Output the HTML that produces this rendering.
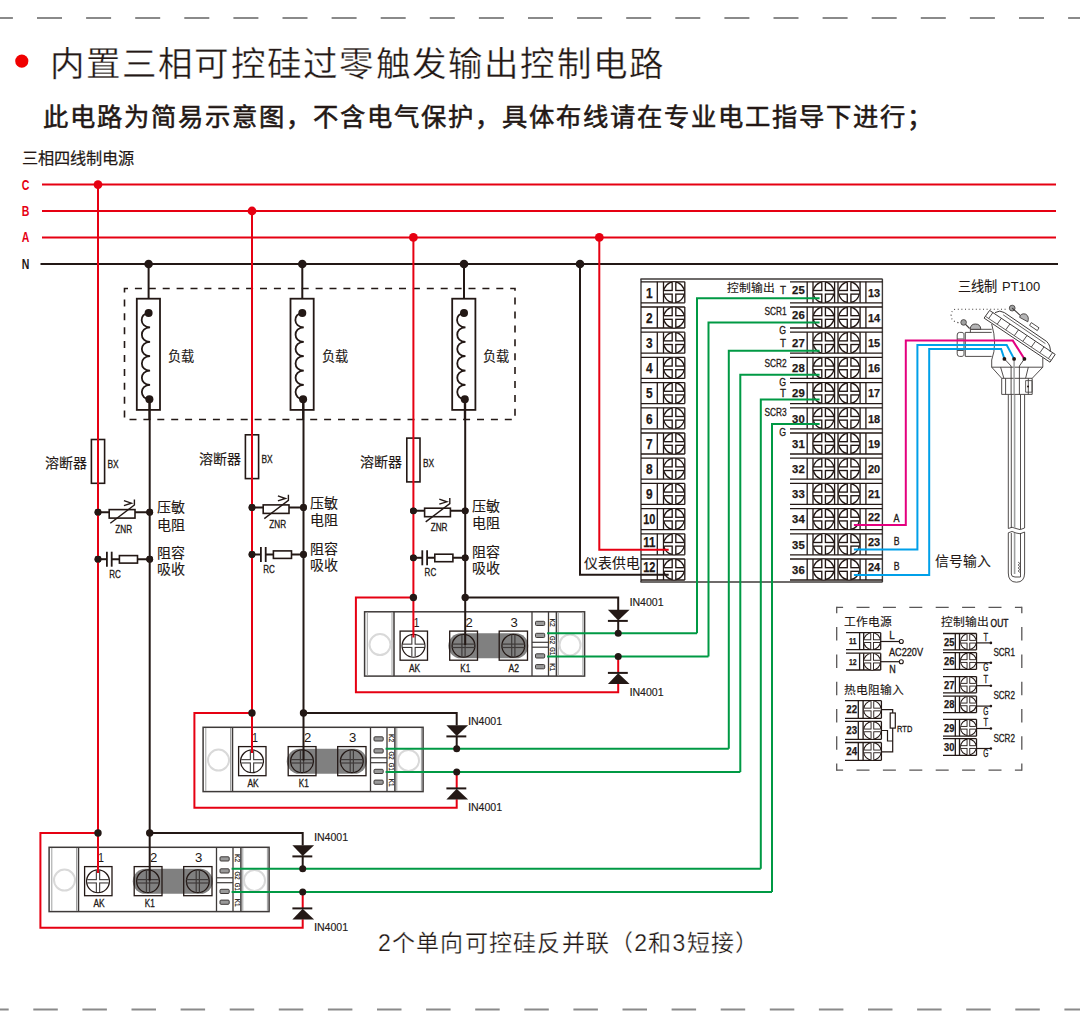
<!DOCTYPE html>
<html lang="zh-CN"><head><meta charset="utf-8"><style>
html,body{margin:0;padding:0;background:#fff;}
svg{display:block;font-family:"Liberation Sans",sans-serif;}
</style></head><body>
<svg width="1080" height="1033" viewBox="0 0 1080 1033">
<rect width="1080" height="1033" fill="#fff"/>
<line x1="0" y1="18" x2="1080" y2="18" stroke="#8a8a8a" stroke-width="2" stroke-dasharray="25 24.1" stroke-dashoffset="12.1"/>
<line x1="0" y1="1009.5" x2="1080" y2="1009.5" stroke="#8a8a8a" stroke-width="2" stroke-dasharray="24.5 24.6" stroke-dashoffset="15.8"/>
<circle cx="21.8" cy="61.1" r="6.6" fill="#f00000"/>
<text x="49.6" y="76.2" font-size="34.5" fill="#231815" stroke="#fff" stroke-width="0.3" textLength="613.5" lengthAdjust="spacing">内置三相可控硅过零触发输出控制电路</text>
<text x="43.2" y="125.5" font-size="25.3" fill="#231815" stroke="#231815" stroke-width="0.55" font-weight="normal" textLength="889" lengthAdjust="spacing">此电路为简易示意图，不含电气保护，具体布线请在专业电工指导下进行；</text>
<text x="22.3" y="163.5" font-size="16.2" fill="#231815" font-weight="normal" text-anchor="start" stroke="#231815" stroke-width="0.2">三相四线制电源</text>
<text x="21.8" y="189.6" font-size="13.8" fill="#e60012" font-weight="bold" text-anchor="start" textLength="7.6" lengthAdjust="spacingAndGlyphs" >C</text>
<text x="21.8" y="216" font-size="13.8" fill="#e60012" font-weight="bold" text-anchor="start" textLength="7.6" lengthAdjust="spacingAndGlyphs" >B</text>
<text x="21.8" y="242.4" font-size="13.8" fill="#e60012" font-weight="bold" text-anchor="start" textLength="7.6" lengthAdjust="spacingAndGlyphs" >A</text>
<text x="21.8" y="269" font-size="13.8" fill="#231815" font-weight="bold" text-anchor="start" textLength="7.6" lengthAdjust="spacingAndGlyphs" >N</text>
<line x1="42" y1="184.6" x2="1056" y2="184.6" stroke="#e60012" stroke-width="2" />
<line x1="42" y1="211" x2="1056" y2="211" stroke="#e60012" stroke-width="2" />
<line x1="42" y1="237.4" x2="1056" y2="237.4" stroke="#e60012" stroke-width="2" />
<line x1="40.5" y1="264" x2="1058" y2="264" stroke="#231815" stroke-width="2" />
<rect x="124.5" y="288.5" width="390.5" height="131" fill="none" stroke="#231815" stroke-width="1.6" stroke-dasharray="7 6.9" stroke-dashoffset="3.5"/>
<line x1="148.6" y1="264" x2="148.6" y2="313" stroke="#231815" stroke-width="2" />
<rect x="136.8" y="298.7" width="23.2" height="111.2" fill="white" stroke="#231815" stroke-width="1.8" />
<path d="M148.6,313.1 C139.1,313.1 139.1,327.47 150.1,327.47 C139.1,327.47 139.1,341.83 150.1,341.83 C139.1,341.83 139.1,356.2 150.1,356.2 C139.1,356.2 139.1,370.57 150.1,370.57 C139.1,370.57 139.1,384.93 150.1,384.93 C139.1,384.93 139.1,399.3 150.1,399.3" fill="none" stroke="#231815" stroke-width="1.8"/>
<circle cx="148.6" cy="313.1" r="4" fill="#231815"/>
<circle cx="149.4" cy="399.3" r="4" fill="#231815"/>
<line x1="149.4" y1="399.3" x2="149.4" y2="420" stroke="#231815" stroke-width="2" />
<text x="167.9" y="360.5" font-size="13.2" fill="#231815" font-weight="normal" text-anchor="start" stroke="#231815" stroke-width="0.12">负载</text>
<circle cx="148.6" cy="264" r="4.3" fill="#231815"/>
<line x1="302.3" y1="264" x2="302.3" y2="313" stroke="#231815" stroke-width="2" />
<rect x="290.5" y="298.7" width="23.2" height="111.2" fill="white" stroke="#231815" stroke-width="1.8" />
<path d="M302.3,313.1 C292.8,313.1 292.8,327.47 303.8,327.47 C292.8,327.47 292.8,341.83 303.8,341.83 C292.8,341.83 292.8,356.2 303.8,356.2 C292.8,356.2 292.8,370.57 303.8,370.57 C292.8,370.57 292.8,384.93 303.8,384.93 C292.8,384.93 292.8,399.3 303.8,399.3" fill="none" stroke="#231815" stroke-width="1.8"/>
<circle cx="302.3" cy="313.1" r="4" fill="#231815"/>
<circle cx="303.1" cy="399.3" r="4" fill="#231815"/>
<line x1="303.1" y1="399.3" x2="303.1" y2="420" stroke="#231815" stroke-width="2" />
<text x="321.6" y="360.5" font-size="13.2" fill="#231815" font-weight="normal" text-anchor="start" stroke="#231815" stroke-width="0.12">负载</text>
<circle cx="302.3" cy="264" r="4.3" fill="#231815"/>
<line x1="464" y1="264" x2="464" y2="313" stroke="#231815" stroke-width="2" />
<rect x="452.2" y="298.7" width="23.2" height="111.2" fill="white" stroke="#231815" stroke-width="1.8" />
<path d="M464,313.1 C454.5,313.1 454.5,327.47 465.5,327.47 C454.5,327.47 454.5,341.83 465.5,341.83 C454.5,341.83 454.5,356.2 465.5,356.2 C454.5,356.2 454.5,370.57 465.5,370.57 C454.5,370.57 454.5,384.93 465.5,384.93 C454.5,384.93 454.5,399.3 465.5,399.3" fill="none" stroke="#231815" stroke-width="1.8"/>
<circle cx="464" cy="313.1" r="4" fill="#231815"/>
<circle cx="464.8" cy="399.3" r="4" fill="#231815"/>
<line x1="464.8" y1="399.3" x2="464.8" y2="420" stroke="#231815" stroke-width="2" />
<text x="483.3" y="360.5" font-size="13.2" fill="#231815" font-weight="normal" text-anchor="start" stroke="#231815" stroke-width="0.12">负载</text>
<circle cx="464" cy="264" r="4.3" fill="#231815"/>
<line x1="640.4" y1="279" x2="882.6" y2="279" stroke="#3e3a39" stroke-width="1.4" />
<line x1="640.4" y1="582" x2="882.6" y2="582" stroke="#3e3a39" stroke-width="1.4" />
<line x1="641" y1="279" x2="641" y2="582" stroke="#3e3a39" stroke-width="1.4" />
<line x1="882.4" y1="279" x2="882.4" y2="582" stroke="#3e3a39" stroke-width="1.4" />
<line x1="641" y1="281.8" x2="684.8" y2="281.8" stroke="#231815" stroke-width="1.3" />
<line x1="641" y1="302.8" x2="684.8" y2="302.8" stroke="#231815" stroke-width="1.3" />
<line x1="657.3" y1="281.8" x2="657.3" y2="302.8" stroke="#231815" stroke-width="1.3" />
<line x1="663.5" y1="281.8" x2="663.5" y2="302.8" stroke="#231815" stroke-width="1.3" />
<line x1="684.8" y1="281.8" x2="684.8" y2="302.8" stroke="#231815" stroke-width="1.3" />
<circle cx="674" cy="292.3" r="10.35" fill="white" stroke="#231815" stroke-width="1.3" />
<g stroke="#231815" stroke-width="5.0"><line x1="674" y1="282.45" x2="674" y2="302.15"/><line x1="664.15" y1="292.3" x2="683.85" y2="292.3"/></g>
<g stroke="#fff" stroke-width="2.3"><line x1="674" y1="282.25" x2="674" y2="302.35"/><line x1="663.95" y1="292.3" x2="684.05" y2="292.3"/></g>
<text x="649.3" y="297.5" font-size="14.2" fill="#231815" font-weight="bold" text-anchor="middle" textLength="6.6" lengthAdjust="spacingAndGlyphs" stroke="#231815" stroke-width="0.25">1</text>
<line x1="790" y1="281.8" x2="882.4" y2="281.8" stroke="#231815" stroke-width="1.3" />
<line x1="790" y1="302.8" x2="882.4" y2="302.8" stroke="#231815" stroke-width="1.3" />
<line x1="807.2" y1="281.8" x2="807.2" y2="302.8" stroke="#231815" stroke-width="1.3" />
<line x1="813" y1="281.8" x2="813" y2="302.8" stroke="#231815" stroke-width="1.3" />
<line x1="834.6" y1="281.8" x2="834.6" y2="302.8" stroke="#231815" stroke-width="1.3" />
<line x1="838" y1="281.8" x2="838" y2="302.8" stroke="#231815" stroke-width="1.3" />
<line x1="860.1" y1="281.8" x2="860.1" y2="302.8" stroke="#231815" stroke-width="1.3" />
<line x1="865.9" y1="281.8" x2="865.9" y2="302.8" stroke="#231815" stroke-width="1.3" />
<circle cx="823.6" cy="292.3" r="10.35" fill="white" stroke="#231815" stroke-width="1.3" />
<g stroke="#231815" stroke-width="5.0"><line x1="823.6" y1="282.45" x2="823.6" y2="302.15"/><line x1="813.75" y1="292.3" x2="833.45" y2="292.3"/></g>
<g stroke="#fff" stroke-width="2.3"><line x1="823.6" y1="282.25" x2="823.6" y2="302.35"/><line x1="813.55" y1="292.3" x2="833.65" y2="292.3"/></g>
<circle cx="849.1" cy="292.3" r="10.35" fill="white" stroke="#231815" stroke-width="1.3" />
<g stroke="#231815" stroke-width="5.0"><line x1="849.1" y1="282.45" x2="849.1" y2="302.15"/><line x1="839.25" y1="292.3" x2="858.95" y2="292.3"/></g>
<g stroke="#fff" stroke-width="2.3"><line x1="849.1" y1="282.25" x2="849.1" y2="302.35"/><line x1="839.05" y1="292.3" x2="859.15" y2="292.3"/></g>
<text x="798.4" y="293.8" font-size="11.8" fill="#231815" font-weight="bold" text-anchor="middle" textLength="12.6" lengthAdjust="spacingAndGlyphs" stroke="#231815" stroke-width="0.25">25</text>
<text x="874" y="296.5" font-size="11.8" fill="#231815" font-weight="bold" text-anchor="middle" textLength="12.2" lengthAdjust="spacingAndGlyphs" stroke="#231815" stroke-width="0.25">13</text>
<line x1="641" y1="307" x2="684.8" y2="307" stroke="#231815" stroke-width="1.3" />
<line x1="641" y1="328" x2="684.8" y2="328" stroke="#231815" stroke-width="1.3" />
<line x1="657.3" y1="307" x2="657.3" y2="328" stroke="#231815" stroke-width="1.3" />
<line x1="663.5" y1="307" x2="663.5" y2="328" stroke="#231815" stroke-width="1.3" />
<line x1="684.8" y1="307" x2="684.8" y2="328" stroke="#231815" stroke-width="1.3" />
<circle cx="674" cy="317.5" r="10.35" fill="white" stroke="#231815" stroke-width="1.3" />
<g stroke="#231815" stroke-width="5.0"><line x1="674" y1="307.65" x2="674" y2="327.35"/><line x1="664.15" y1="317.5" x2="683.85" y2="317.5"/></g>
<g stroke="#fff" stroke-width="2.3"><line x1="674" y1="307.45" x2="674" y2="327.55"/><line x1="663.95" y1="317.5" x2="684.05" y2="317.5"/></g>
<text x="649.3" y="322.7" font-size="14.2" fill="#231815" font-weight="bold" text-anchor="middle" textLength="6.6" lengthAdjust="spacingAndGlyphs" stroke="#231815" stroke-width="0.25">2</text>
<line x1="790" y1="307" x2="882.4" y2="307" stroke="#231815" stroke-width="1.3" />
<line x1="790" y1="328" x2="882.4" y2="328" stroke="#231815" stroke-width="1.3" />
<line x1="807.2" y1="307" x2="807.2" y2="328" stroke="#231815" stroke-width="1.3" />
<line x1="813" y1="307" x2="813" y2="328" stroke="#231815" stroke-width="1.3" />
<line x1="834.6" y1="307" x2="834.6" y2="328" stroke="#231815" stroke-width="1.3" />
<line x1="838" y1="307" x2="838" y2="328" stroke="#231815" stroke-width="1.3" />
<line x1="860.1" y1="307" x2="860.1" y2="328" stroke="#231815" stroke-width="1.3" />
<line x1="865.9" y1="307" x2="865.9" y2="328" stroke="#231815" stroke-width="1.3" />
<circle cx="823.6" cy="317.5" r="10.35" fill="white" stroke="#231815" stroke-width="1.3" />
<g stroke="#231815" stroke-width="5.0"><line x1="823.6" y1="307.65" x2="823.6" y2="327.35"/><line x1="813.75" y1="317.5" x2="833.45" y2="317.5"/></g>
<g stroke="#fff" stroke-width="2.3"><line x1="823.6" y1="307.45" x2="823.6" y2="327.55"/><line x1="813.55" y1="317.5" x2="833.65" y2="317.5"/></g>
<circle cx="849.1" cy="317.5" r="10.35" fill="white" stroke="#231815" stroke-width="1.3" />
<g stroke="#231815" stroke-width="5.0"><line x1="849.1" y1="307.65" x2="849.1" y2="327.35"/><line x1="839.25" y1="317.5" x2="858.95" y2="317.5"/></g>
<g stroke="#fff" stroke-width="2.3"><line x1="849.1" y1="307.45" x2="849.1" y2="327.55"/><line x1="839.05" y1="317.5" x2="859.15" y2="317.5"/></g>
<text x="798.4" y="319" font-size="11.8" fill="#231815" font-weight="bold" text-anchor="middle" textLength="12.6" lengthAdjust="spacingAndGlyphs" stroke="#231815" stroke-width="0.25">26</text>
<text x="874" y="321.7" font-size="11.8" fill="#231815" font-weight="bold" text-anchor="middle" textLength="12.2" lengthAdjust="spacingAndGlyphs" stroke="#231815" stroke-width="0.25">14</text>
<line x1="641" y1="332.2" x2="684.8" y2="332.2" stroke="#231815" stroke-width="1.3" />
<line x1="641" y1="353.2" x2="684.8" y2="353.2" stroke="#231815" stroke-width="1.3" />
<line x1="657.3" y1="332.2" x2="657.3" y2="353.2" stroke="#231815" stroke-width="1.3" />
<line x1="663.5" y1="332.2" x2="663.5" y2="353.2" stroke="#231815" stroke-width="1.3" />
<line x1="684.8" y1="332.2" x2="684.8" y2="353.2" stroke="#231815" stroke-width="1.3" />
<circle cx="674" cy="342.7" r="10.35" fill="white" stroke="#231815" stroke-width="1.3" />
<g stroke="#231815" stroke-width="5.0"><line x1="674" y1="332.85" x2="674" y2="352.55"/><line x1="664.15" y1="342.7" x2="683.85" y2="342.7"/></g>
<g stroke="#fff" stroke-width="2.3"><line x1="674" y1="332.65" x2="674" y2="352.75"/><line x1="663.95" y1="342.7" x2="684.05" y2="342.7"/></g>
<text x="649.3" y="347.9" font-size="14.2" fill="#231815" font-weight="bold" text-anchor="middle" textLength="6.6" lengthAdjust="spacingAndGlyphs" stroke="#231815" stroke-width="0.25">3</text>
<line x1="790" y1="332.2" x2="882.4" y2="332.2" stroke="#231815" stroke-width="1.3" />
<line x1="790" y1="353.2" x2="882.4" y2="353.2" stroke="#231815" stroke-width="1.3" />
<line x1="807.2" y1="332.2" x2="807.2" y2="353.2" stroke="#231815" stroke-width="1.3" />
<line x1="813" y1="332.2" x2="813" y2="353.2" stroke="#231815" stroke-width="1.3" />
<line x1="834.6" y1="332.2" x2="834.6" y2="353.2" stroke="#231815" stroke-width="1.3" />
<line x1="838" y1="332.2" x2="838" y2="353.2" stroke="#231815" stroke-width="1.3" />
<line x1="860.1" y1="332.2" x2="860.1" y2="353.2" stroke="#231815" stroke-width="1.3" />
<line x1="865.9" y1="332.2" x2="865.9" y2="353.2" stroke="#231815" stroke-width="1.3" />
<circle cx="823.6" cy="342.7" r="10.35" fill="white" stroke="#231815" stroke-width="1.3" />
<g stroke="#231815" stroke-width="5.0"><line x1="823.6" y1="332.85" x2="823.6" y2="352.55"/><line x1="813.75" y1="342.7" x2="833.45" y2="342.7"/></g>
<g stroke="#fff" stroke-width="2.3"><line x1="823.6" y1="332.65" x2="823.6" y2="352.75"/><line x1="813.55" y1="342.7" x2="833.65" y2="342.7"/></g>
<circle cx="849.1" cy="342.7" r="10.35" fill="white" stroke="#231815" stroke-width="1.3" />
<g stroke="#231815" stroke-width="5.0"><line x1="849.1" y1="332.85" x2="849.1" y2="352.55"/><line x1="839.25" y1="342.7" x2="858.95" y2="342.7"/></g>
<g stroke="#fff" stroke-width="2.3"><line x1="849.1" y1="332.65" x2="849.1" y2="352.75"/><line x1="839.05" y1="342.7" x2="859.15" y2="342.7"/></g>
<text x="798.4" y="346.9" font-size="11.8" fill="#231815" font-weight="bold" text-anchor="middle" textLength="12.6" lengthAdjust="spacingAndGlyphs" stroke="#231815" stroke-width="0.25">27</text>
<text x="874" y="346.9" font-size="11.8" fill="#231815" font-weight="bold" text-anchor="middle" textLength="12.2" lengthAdjust="spacingAndGlyphs" stroke="#231815" stroke-width="0.25">15</text>
<line x1="641" y1="357.4" x2="684.8" y2="357.4" stroke="#231815" stroke-width="1.3" />
<line x1="641" y1="378.4" x2="684.8" y2="378.4" stroke="#231815" stroke-width="1.3" />
<line x1="657.3" y1="357.4" x2="657.3" y2="378.4" stroke="#231815" stroke-width="1.3" />
<line x1="663.5" y1="357.4" x2="663.5" y2="378.4" stroke="#231815" stroke-width="1.3" />
<line x1="684.8" y1="357.4" x2="684.8" y2="378.4" stroke="#231815" stroke-width="1.3" />
<circle cx="674" cy="367.9" r="10.35" fill="white" stroke="#231815" stroke-width="1.3" />
<g stroke="#231815" stroke-width="5.0"><line x1="674" y1="358.05" x2="674" y2="377.75"/><line x1="664.15" y1="367.9" x2="683.85" y2="367.9"/></g>
<g stroke="#fff" stroke-width="2.3"><line x1="674" y1="357.85" x2="674" y2="377.95"/><line x1="663.95" y1="367.9" x2="684.05" y2="367.9"/></g>
<text x="649.3" y="373.1" font-size="14.2" fill="#231815" font-weight="bold" text-anchor="middle" textLength="6.6" lengthAdjust="spacingAndGlyphs" stroke="#231815" stroke-width="0.25">4</text>
<line x1="790" y1="357.4" x2="882.4" y2="357.4" stroke="#231815" stroke-width="1.3" />
<line x1="790" y1="378.4" x2="882.4" y2="378.4" stroke="#231815" stroke-width="1.3" />
<line x1="807.2" y1="357.4" x2="807.2" y2="378.4" stroke="#231815" stroke-width="1.3" />
<line x1="813" y1="357.4" x2="813" y2="378.4" stroke="#231815" stroke-width="1.3" />
<line x1="834.6" y1="357.4" x2="834.6" y2="378.4" stroke="#231815" stroke-width="1.3" />
<line x1="838" y1="357.4" x2="838" y2="378.4" stroke="#231815" stroke-width="1.3" />
<line x1="860.1" y1="357.4" x2="860.1" y2="378.4" stroke="#231815" stroke-width="1.3" />
<line x1="865.9" y1="357.4" x2="865.9" y2="378.4" stroke="#231815" stroke-width="1.3" />
<circle cx="823.6" cy="367.9" r="10.35" fill="white" stroke="#231815" stroke-width="1.3" />
<g stroke="#231815" stroke-width="5.0"><line x1="823.6" y1="358.05" x2="823.6" y2="377.75"/><line x1="813.75" y1="367.9" x2="833.45" y2="367.9"/></g>
<g stroke="#fff" stroke-width="2.3"><line x1="823.6" y1="357.85" x2="823.6" y2="377.95"/><line x1="813.55" y1="367.9" x2="833.65" y2="367.9"/></g>
<circle cx="849.1" cy="367.9" r="10.35" fill="white" stroke="#231815" stroke-width="1.3" />
<g stroke="#231815" stroke-width="5.0"><line x1="849.1" y1="358.05" x2="849.1" y2="377.75"/><line x1="839.25" y1="367.9" x2="858.95" y2="367.9"/></g>
<g stroke="#fff" stroke-width="2.3"><line x1="849.1" y1="357.85" x2="849.1" y2="377.95"/><line x1="839.05" y1="367.9" x2="859.15" y2="367.9"/></g>
<text x="798.4" y="372.1" font-size="11.8" fill="#231815" font-weight="bold" text-anchor="middle" textLength="12.6" lengthAdjust="spacingAndGlyphs" stroke="#231815" stroke-width="0.25">28</text>
<text x="874" y="372.1" font-size="11.8" fill="#231815" font-weight="bold" text-anchor="middle" textLength="12.2" lengthAdjust="spacingAndGlyphs" stroke="#231815" stroke-width="0.25">16</text>
<line x1="641" y1="382.6" x2="684.8" y2="382.6" stroke="#231815" stroke-width="1.3" />
<line x1="641" y1="403.6" x2="684.8" y2="403.6" stroke="#231815" stroke-width="1.3" />
<line x1="657.3" y1="382.6" x2="657.3" y2="403.6" stroke="#231815" stroke-width="1.3" />
<line x1="663.5" y1="382.6" x2="663.5" y2="403.6" stroke="#231815" stroke-width="1.3" />
<line x1="684.8" y1="382.6" x2="684.8" y2="403.6" stroke="#231815" stroke-width="1.3" />
<circle cx="674" cy="393.1" r="10.35" fill="white" stroke="#231815" stroke-width="1.3" />
<g stroke="#231815" stroke-width="5.0"><line x1="674" y1="383.25" x2="674" y2="402.95"/><line x1="664.15" y1="393.1" x2="683.85" y2="393.1"/></g>
<g stroke="#fff" stroke-width="2.3"><line x1="674" y1="383.05" x2="674" y2="403.15"/><line x1="663.95" y1="393.1" x2="684.05" y2="393.1"/></g>
<text x="649.3" y="398.3" font-size="14.2" fill="#231815" font-weight="bold" text-anchor="middle" textLength="6.6" lengthAdjust="spacingAndGlyphs" stroke="#231815" stroke-width="0.25">5</text>
<line x1="790" y1="382.6" x2="882.4" y2="382.6" stroke="#231815" stroke-width="1.3" />
<line x1="790" y1="403.6" x2="882.4" y2="403.6" stroke="#231815" stroke-width="1.3" />
<line x1="807.2" y1="382.6" x2="807.2" y2="403.6" stroke="#231815" stroke-width="1.3" />
<line x1="813" y1="382.6" x2="813" y2="403.6" stroke="#231815" stroke-width="1.3" />
<line x1="834.6" y1="382.6" x2="834.6" y2="403.6" stroke="#231815" stroke-width="1.3" />
<line x1="838" y1="382.6" x2="838" y2="403.6" stroke="#231815" stroke-width="1.3" />
<line x1="860.1" y1="382.6" x2="860.1" y2="403.6" stroke="#231815" stroke-width="1.3" />
<line x1="865.9" y1="382.6" x2="865.9" y2="403.6" stroke="#231815" stroke-width="1.3" />
<circle cx="823.6" cy="393.1" r="10.35" fill="white" stroke="#231815" stroke-width="1.3" />
<g stroke="#231815" stroke-width="5.0"><line x1="823.6" y1="383.25" x2="823.6" y2="402.95"/><line x1="813.75" y1="393.1" x2="833.45" y2="393.1"/></g>
<g stroke="#fff" stroke-width="2.3"><line x1="823.6" y1="383.05" x2="823.6" y2="403.15"/><line x1="813.55" y1="393.1" x2="833.65" y2="393.1"/></g>
<circle cx="849.1" cy="393.1" r="10.35" fill="white" stroke="#231815" stroke-width="1.3" />
<g stroke="#231815" stroke-width="5.0"><line x1="849.1" y1="383.25" x2="849.1" y2="402.95"/><line x1="839.25" y1="393.1" x2="858.95" y2="393.1"/></g>
<g stroke="#fff" stroke-width="2.3"><line x1="849.1" y1="383.05" x2="849.1" y2="403.15"/><line x1="839.05" y1="393.1" x2="859.15" y2="393.1"/></g>
<text x="798.4" y="397.3" font-size="11.8" fill="#231815" font-weight="bold" text-anchor="middle" textLength="12.6" lengthAdjust="spacingAndGlyphs" stroke="#231815" stroke-width="0.25">29</text>
<text x="874" y="397.3" font-size="11.8" fill="#231815" font-weight="bold" text-anchor="middle" textLength="12.2" lengthAdjust="spacingAndGlyphs" stroke="#231815" stroke-width="0.25">17</text>
<line x1="641" y1="407.8" x2="684.8" y2="407.8" stroke="#231815" stroke-width="1.3" />
<line x1="641" y1="428.8" x2="684.8" y2="428.8" stroke="#231815" stroke-width="1.3" />
<line x1="657.3" y1="407.8" x2="657.3" y2="428.8" stroke="#231815" stroke-width="1.3" />
<line x1="663.5" y1="407.8" x2="663.5" y2="428.8" stroke="#231815" stroke-width="1.3" />
<line x1="684.8" y1="407.8" x2="684.8" y2="428.8" stroke="#231815" stroke-width="1.3" />
<circle cx="674" cy="418.3" r="10.35" fill="white" stroke="#231815" stroke-width="1.3" />
<g stroke="#231815" stroke-width="5.0"><line x1="674" y1="408.45" x2="674" y2="428.15"/><line x1="664.15" y1="418.3" x2="683.85" y2="418.3"/></g>
<g stroke="#fff" stroke-width="2.3"><line x1="674" y1="408.25" x2="674" y2="428.35"/><line x1="663.95" y1="418.3" x2="684.05" y2="418.3"/></g>
<text x="649.3" y="423.5" font-size="14.2" fill="#231815" font-weight="bold" text-anchor="middle" textLength="6.6" lengthAdjust="spacingAndGlyphs" stroke="#231815" stroke-width="0.25">6</text>
<line x1="790" y1="407.8" x2="882.4" y2="407.8" stroke="#231815" stroke-width="1.3" />
<line x1="790" y1="428.8" x2="882.4" y2="428.8" stroke="#231815" stroke-width="1.3" />
<line x1="807.2" y1="407.8" x2="807.2" y2="428.8" stroke="#231815" stroke-width="1.3" />
<line x1="813" y1="407.8" x2="813" y2="428.8" stroke="#231815" stroke-width="1.3" />
<line x1="834.6" y1="407.8" x2="834.6" y2="428.8" stroke="#231815" stroke-width="1.3" />
<line x1="838" y1="407.8" x2="838" y2="428.8" stroke="#231815" stroke-width="1.3" />
<line x1="860.1" y1="407.8" x2="860.1" y2="428.8" stroke="#231815" stroke-width="1.3" />
<line x1="865.9" y1="407.8" x2="865.9" y2="428.8" stroke="#231815" stroke-width="1.3" />
<circle cx="823.6" cy="418.3" r="10.35" fill="white" stroke="#231815" stroke-width="1.3" />
<g stroke="#231815" stroke-width="5.0"><line x1="823.6" y1="408.45" x2="823.6" y2="428.15"/><line x1="813.75" y1="418.3" x2="833.45" y2="418.3"/></g>
<g stroke="#fff" stroke-width="2.3"><line x1="823.6" y1="408.25" x2="823.6" y2="428.35"/><line x1="813.55" y1="418.3" x2="833.65" y2="418.3"/></g>
<circle cx="849.1" cy="418.3" r="10.35" fill="white" stroke="#231815" stroke-width="1.3" />
<g stroke="#231815" stroke-width="5.0"><line x1="849.1" y1="408.45" x2="849.1" y2="428.15"/><line x1="839.25" y1="418.3" x2="858.95" y2="418.3"/></g>
<g stroke="#fff" stroke-width="2.3"><line x1="849.1" y1="408.25" x2="849.1" y2="428.35"/><line x1="839.05" y1="418.3" x2="859.15" y2="418.3"/></g>
<text x="798.4" y="422.5" font-size="11.8" fill="#231815" font-weight="bold" text-anchor="middle" textLength="12.6" lengthAdjust="spacingAndGlyphs" stroke="#231815" stroke-width="0.25">30</text>
<text x="874" y="422.5" font-size="11.8" fill="#231815" font-weight="bold" text-anchor="middle" textLength="12.2" lengthAdjust="spacingAndGlyphs" stroke="#231815" stroke-width="0.25">18</text>
<line x1="641" y1="433" x2="684.8" y2="433" stroke="#231815" stroke-width="1.3" />
<line x1="641" y1="454" x2="684.8" y2="454" stroke="#231815" stroke-width="1.3" />
<line x1="657.3" y1="433" x2="657.3" y2="454" stroke="#231815" stroke-width="1.3" />
<line x1="663.5" y1="433" x2="663.5" y2="454" stroke="#231815" stroke-width="1.3" />
<line x1="684.8" y1="433" x2="684.8" y2="454" stroke="#231815" stroke-width="1.3" />
<circle cx="674" cy="443.5" r="10.35" fill="white" stroke="#231815" stroke-width="1.3" />
<g stroke="#231815" stroke-width="5.0"><line x1="674" y1="433.65" x2="674" y2="453.35"/><line x1="664.15" y1="443.5" x2="683.85" y2="443.5"/></g>
<g stroke="#fff" stroke-width="2.3"><line x1="674" y1="433.45" x2="674" y2="453.55"/><line x1="663.95" y1="443.5" x2="684.05" y2="443.5"/></g>
<text x="649.3" y="448.7" font-size="14.2" fill="#231815" font-weight="bold" text-anchor="middle" textLength="6.6" lengthAdjust="spacingAndGlyphs" stroke="#231815" stroke-width="0.25">7</text>
<line x1="790" y1="433" x2="882.4" y2="433" stroke="#231815" stroke-width="1.3" />
<line x1="790" y1="454" x2="882.4" y2="454" stroke="#231815" stroke-width="1.3" />
<line x1="807.2" y1="433" x2="807.2" y2="454" stroke="#231815" stroke-width="1.3" />
<line x1="813" y1="433" x2="813" y2="454" stroke="#231815" stroke-width="1.3" />
<line x1="834.6" y1="433" x2="834.6" y2="454" stroke="#231815" stroke-width="1.3" />
<line x1="838" y1="433" x2="838" y2="454" stroke="#231815" stroke-width="1.3" />
<line x1="860.1" y1="433" x2="860.1" y2="454" stroke="#231815" stroke-width="1.3" />
<line x1="865.9" y1="433" x2="865.9" y2="454" stroke="#231815" stroke-width="1.3" />
<circle cx="823.6" cy="443.5" r="10.35" fill="white" stroke="#231815" stroke-width="1.3" />
<g stroke="#231815" stroke-width="5.0"><line x1="823.6" y1="433.65" x2="823.6" y2="453.35"/><line x1="813.75" y1="443.5" x2="833.45" y2="443.5"/></g>
<g stroke="#fff" stroke-width="2.3"><line x1="823.6" y1="433.45" x2="823.6" y2="453.55"/><line x1="813.55" y1="443.5" x2="833.65" y2="443.5"/></g>
<circle cx="849.1" cy="443.5" r="10.35" fill="white" stroke="#231815" stroke-width="1.3" />
<g stroke="#231815" stroke-width="5.0"><line x1="849.1" y1="433.65" x2="849.1" y2="453.35"/><line x1="839.25" y1="443.5" x2="858.95" y2="443.5"/></g>
<g stroke="#fff" stroke-width="2.3"><line x1="849.1" y1="433.45" x2="849.1" y2="453.55"/><line x1="839.05" y1="443.5" x2="859.15" y2="443.5"/></g>
<text x="798.4" y="447.7" font-size="11.8" fill="#231815" font-weight="bold" text-anchor="middle" textLength="12.6" lengthAdjust="spacingAndGlyphs" stroke="#231815" stroke-width="0.25">31</text>
<text x="874" y="447.7" font-size="11.8" fill="#231815" font-weight="bold" text-anchor="middle" textLength="12.2" lengthAdjust="spacingAndGlyphs" stroke="#231815" stroke-width="0.25">19</text>
<line x1="641" y1="458.2" x2="684.8" y2="458.2" stroke="#231815" stroke-width="1.3" />
<line x1="641" y1="479.2" x2="684.8" y2="479.2" stroke="#231815" stroke-width="1.3" />
<line x1="657.3" y1="458.2" x2="657.3" y2="479.2" stroke="#231815" stroke-width="1.3" />
<line x1="663.5" y1="458.2" x2="663.5" y2="479.2" stroke="#231815" stroke-width="1.3" />
<line x1="684.8" y1="458.2" x2="684.8" y2="479.2" stroke="#231815" stroke-width="1.3" />
<circle cx="674" cy="468.7" r="10.35" fill="white" stroke="#231815" stroke-width="1.3" />
<g stroke="#231815" stroke-width="5.0"><line x1="674" y1="458.85" x2="674" y2="478.55"/><line x1="664.15" y1="468.7" x2="683.85" y2="468.7"/></g>
<g stroke="#fff" stroke-width="2.3"><line x1="674" y1="458.65" x2="674" y2="478.75"/><line x1="663.95" y1="468.7" x2="684.05" y2="468.7"/></g>
<text x="649.3" y="473.9" font-size="14.2" fill="#231815" font-weight="bold" text-anchor="middle" textLength="6.6" lengthAdjust="spacingAndGlyphs" stroke="#231815" stroke-width="0.25">8</text>
<line x1="790" y1="458.2" x2="882.4" y2="458.2" stroke="#231815" stroke-width="1.3" />
<line x1="790" y1="479.2" x2="882.4" y2="479.2" stroke="#231815" stroke-width="1.3" />
<line x1="807.2" y1="458.2" x2="807.2" y2="479.2" stroke="#231815" stroke-width="1.3" />
<line x1="813" y1="458.2" x2="813" y2="479.2" stroke="#231815" stroke-width="1.3" />
<line x1="834.6" y1="458.2" x2="834.6" y2="479.2" stroke="#231815" stroke-width="1.3" />
<line x1="838" y1="458.2" x2="838" y2="479.2" stroke="#231815" stroke-width="1.3" />
<line x1="860.1" y1="458.2" x2="860.1" y2="479.2" stroke="#231815" stroke-width="1.3" />
<line x1="865.9" y1="458.2" x2="865.9" y2="479.2" stroke="#231815" stroke-width="1.3" />
<circle cx="823.6" cy="468.7" r="10.35" fill="white" stroke="#231815" stroke-width="1.3" />
<g stroke="#231815" stroke-width="5.0"><line x1="823.6" y1="458.85" x2="823.6" y2="478.55"/><line x1="813.75" y1="468.7" x2="833.45" y2="468.7"/></g>
<g stroke="#fff" stroke-width="2.3"><line x1="823.6" y1="458.65" x2="823.6" y2="478.75"/><line x1="813.55" y1="468.7" x2="833.65" y2="468.7"/></g>
<circle cx="849.1" cy="468.7" r="10.35" fill="white" stroke="#231815" stroke-width="1.3" />
<g stroke="#231815" stroke-width="5.0"><line x1="849.1" y1="458.85" x2="849.1" y2="478.55"/><line x1="839.25" y1="468.7" x2="858.95" y2="468.7"/></g>
<g stroke="#fff" stroke-width="2.3"><line x1="849.1" y1="458.65" x2="849.1" y2="478.75"/><line x1="839.05" y1="468.7" x2="859.15" y2="468.7"/></g>
<text x="798.4" y="472.9" font-size="11.8" fill="#231815" font-weight="bold" text-anchor="middle" textLength="12.6" lengthAdjust="spacingAndGlyphs" stroke="#231815" stroke-width="0.25">32</text>
<text x="874" y="472.9" font-size="11.8" fill="#231815" font-weight="bold" text-anchor="middle" textLength="12.2" lengthAdjust="spacingAndGlyphs" stroke="#231815" stroke-width="0.25">20</text>
<line x1="641" y1="483.4" x2="684.8" y2="483.4" stroke="#231815" stroke-width="1.3" />
<line x1="641" y1="504.4" x2="684.8" y2="504.4" stroke="#231815" stroke-width="1.3" />
<line x1="657.3" y1="483.4" x2="657.3" y2="504.4" stroke="#231815" stroke-width="1.3" />
<line x1="663.5" y1="483.4" x2="663.5" y2="504.4" stroke="#231815" stroke-width="1.3" />
<line x1="684.8" y1="483.4" x2="684.8" y2="504.4" stroke="#231815" stroke-width="1.3" />
<circle cx="674" cy="493.9" r="10.35" fill="white" stroke="#231815" stroke-width="1.3" />
<g stroke="#231815" stroke-width="5.0"><line x1="674" y1="484.05" x2="674" y2="503.75"/><line x1="664.15" y1="493.9" x2="683.85" y2="493.9"/></g>
<g stroke="#fff" stroke-width="2.3"><line x1="674" y1="483.85" x2="674" y2="503.95"/><line x1="663.95" y1="493.9" x2="684.05" y2="493.9"/></g>
<text x="649.3" y="499.1" font-size="14.2" fill="#231815" font-weight="bold" text-anchor="middle" textLength="6.6" lengthAdjust="spacingAndGlyphs" stroke="#231815" stroke-width="0.25">9</text>
<line x1="790" y1="483.4" x2="882.4" y2="483.4" stroke="#231815" stroke-width="1.3" />
<line x1="790" y1="504.4" x2="882.4" y2="504.4" stroke="#231815" stroke-width="1.3" />
<line x1="807.2" y1="483.4" x2="807.2" y2="504.4" stroke="#231815" stroke-width="1.3" />
<line x1="813" y1="483.4" x2="813" y2="504.4" stroke="#231815" stroke-width="1.3" />
<line x1="834.6" y1="483.4" x2="834.6" y2="504.4" stroke="#231815" stroke-width="1.3" />
<line x1="838" y1="483.4" x2="838" y2="504.4" stroke="#231815" stroke-width="1.3" />
<line x1="860.1" y1="483.4" x2="860.1" y2="504.4" stroke="#231815" stroke-width="1.3" />
<line x1="865.9" y1="483.4" x2="865.9" y2="504.4" stroke="#231815" stroke-width="1.3" />
<circle cx="823.6" cy="493.9" r="10.35" fill="white" stroke="#231815" stroke-width="1.3" />
<g stroke="#231815" stroke-width="5.0"><line x1="823.6" y1="484.05" x2="823.6" y2="503.75"/><line x1="813.75" y1="493.9" x2="833.45" y2="493.9"/></g>
<g stroke="#fff" stroke-width="2.3"><line x1="823.6" y1="483.85" x2="823.6" y2="503.95"/><line x1="813.55" y1="493.9" x2="833.65" y2="493.9"/></g>
<circle cx="849.1" cy="493.9" r="10.35" fill="white" stroke="#231815" stroke-width="1.3" />
<g stroke="#231815" stroke-width="5.0"><line x1="849.1" y1="484.05" x2="849.1" y2="503.75"/><line x1="839.25" y1="493.9" x2="858.95" y2="493.9"/></g>
<g stroke="#fff" stroke-width="2.3"><line x1="849.1" y1="483.85" x2="849.1" y2="503.95"/><line x1="839.05" y1="493.9" x2="859.15" y2="493.9"/></g>
<text x="798.4" y="498.1" font-size="11.8" fill="#231815" font-weight="bold" text-anchor="middle" textLength="12.6" lengthAdjust="spacingAndGlyphs" stroke="#231815" stroke-width="0.25">33</text>
<text x="874" y="498.1" font-size="11.8" fill="#231815" font-weight="bold" text-anchor="middle" textLength="12.2" lengthAdjust="spacingAndGlyphs" stroke="#231815" stroke-width="0.25">21</text>
<line x1="641" y1="508.6" x2="684.8" y2="508.6" stroke="#231815" stroke-width="1.3" />
<line x1="641" y1="529.6" x2="684.8" y2="529.6" stroke="#231815" stroke-width="1.3" />
<line x1="657.3" y1="508.6" x2="657.3" y2="529.6" stroke="#231815" stroke-width="1.3" />
<line x1="663.5" y1="508.6" x2="663.5" y2="529.6" stroke="#231815" stroke-width="1.3" />
<line x1="684.8" y1="508.6" x2="684.8" y2="529.6" stroke="#231815" stroke-width="1.3" />
<circle cx="674" cy="519.1" r="10.35" fill="white" stroke="#231815" stroke-width="1.3" />
<g stroke="#231815" stroke-width="5.0"><line x1="674" y1="509.25" x2="674" y2="528.95"/><line x1="664.15" y1="519.1" x2="683.85" y2="519.1"/></g>
<g stroke="#fff" stroke-width="2.3"><line x1="674" y1="509.05" x2="674" y2="529.15"/><line x1="663.95" y1="519.1" x2="684.05" y2="519.1"/></g>
<text x="649.3" y="524.3" font-size="14.2" fill="#231815" font-weight="bold" text-anchor="middle" textLength="12.2" lengthAdjust="spacingAndGlyphs" stroke="#231815" stroke-width="0.25">10</text>
<line x1="790" y1="508.6" x2="882.4" y2="508.6" stroke="#231815" stroke-width="1.3" />
<line x1="790" y1="529.6" x2="882.4" y2="529.6" stroke="#231815" stroke-width="1.3" />
<line x1="807.2" y1="508.6" x2="807.2" y2="529.6" stroke="#231815" stroke-width="1.3" />
<line x1="813" y1="508.6" x2="813" y2="529.6" stroke="#231815" stroke-width="1.3" />
<line x1="834.6" y1="508.6" x2="834.6" y2="529.6" stroke="#231815" stroke-width="1.3" />
<line x1="838" y1="508.6" x2="838" y2="529.6" stroke="#231815" stroke-width="1.3" />
<line x1="860.1" y1="508.6" x2="860.1" y2="529.6" stroke="#231815" stroke-width="1.3" />
<line x1="865.9" y1="508.6" x2="865.9" y2="529.6" stroke="#231815" stroke-width="1.3" />
<circle cx="823.6" cy="519.1" r="10.35" fill="white" stroke="#231815" stroke-width="1.3" />
<g stroke="#231815" stroke-width="5.0"><line x1="823.6" y1="509.25" x2="823.6" y2="528.95"/><line x1="813.75" y1="519.1" x2="833.45" y2="519.1"/></g>
<g stroke="#fff" stroke-width="2.3"><line x1="823.6" y1="509.05" x2="823.6" y2="529.15"/><line x1="813.55" y1="519.1" x2="833.65" y2="519.1"/></g>
<circle cx="849.1" cy="519.1" r="10.35" fill="white" stroke="#231815" stroke-width="1.3" />
<g stroke="#231815" stroke-width="5.0"><line x1="849.1" y1="509.25" x2="849.1" y2="528.95"/><line x1="839.25" y1="519.1" x2="858.95" y2="519.1"/></g>
<g stroke="#fff" stroke-width="2.3"><line x1="849.1" y1="509.05" x2="849.1" y2="529.15"/><line x1="839.05" y1="519.1" x2="859.15" y2="519.1"/></g>
<text x="798.4" y="523.3" font-size="11.8" fill="#231815" font-weight="bold" text-anchor="middle" textLength="12.6" lengthAdjust="spacingAndGlyphs" stroke="#231815" stroke-width="0.25">34</text>
<text x="874" y="520.7" font-size="11.8" fill="#231815" font-weight="bold" text-anchor="middle" textLength="12.2" lengthAdjust="spacingAndGlyphs" stroke="#231815" stroke-width="0.25">22</text>
<line x1="641" y1="533.8" x2="684.8" y2="533.8" stroke="#231815" stroke-width="1.3" />
<line x1="641" y1="554.8" x2="684.8" y2="554.8" stroke="#231815" stroke-width="1.3" />
<line x1="657.3" y1="533.8" x2="657.3" y2="554.8" stroke="#231815" stroke-width="1.3" />
<line x1="663.5" y1="533.8" x2="663.5" y2="554.8" stroke="#231815" stroke-width="1.3" />
<line x1="684.8" y1="533.8" x2="684.8" y2="554.8" stroke="#231815" stroke-width="1.3" />
<circle cx="674" cy="544.3" r="10.35" fill="white" stroke="#231815" stroke-width="1.3" />
<g stroke="#231815" stroke-width="5.0"><line x1="674" y1="534.45" x2="674" y2="554.15"/><line x1="664.15" y1="544.3" x2="683.85" y2="544.3"/></g>
<g stroke="#fff" stroke-width="2.3"><line x1="674" y1="534.25" x2="674" y2="554.35"/><line x1="663.95" y1="544.3" x2="684.05" y2="544.3"/></g>
<text x="649.3" y="546.8" font-size="14.2" fill="#231815" font-weight="bold" text-anchor="middle" textLength="12.2" lengthAdjust="spacingAndGlyphs" stroke="#231815" stroke-width="0.25">11</text>
<line x1="790" y1="533.8" x2="882.4" y2="533.8" stroke="#231815" stroke-width="1.3" />
<line x1="790" y1="554.8" x2="882.4" y2="554.8" stroke="#231815" stroke-width="1.3" />
<line x1="807.2" y1="533.8" x2="807.2" y2="554.8" stroke="#231815" stroke-width="1.3" />
<line x1="813" y1="533.8" x2="813" y2="554.8" stroke="#231815" stroke-width="1.3" />
<line x1="834.6" y1="533.8" x2="834.6" y2="554.8" stroke="#231815" stroke-width="1.3" />
<line x1="838" y1="533.8" x2="838" y2="554.8" stroke="#231815" stroke-width="1.3" />
<line x1="860.1" y1="533.8" x2="860.1" y2="554.8" stroke="#231815" stroke-width="1.3" />
<line x1="865.9" y1="533.8" x2="865.9" y2="554.8" stroke="#231815" stroke-width="1.3" />
<circle cx="823.6" cy="544.3" r="10.35" fill="white" stroke="#231815" stroke-width="1.3" />
<g stroke="#231815" stroke-width="5.0"><line x1="823.6" y1="534.45" x2="823.6" y2="554.15"/><line x1="813.75" y1="544.3" x2="833.45" y2="544.3"/></g>
<g stroke="#fff" stroke-width="2.3"><line x1="823.6" y1="534.25" x2="823.6" y2="554.35"/><line x1="813.55" y1="544.3" x2="833.65" y2="544.3"/></g>
<circle cx="849.1" cy="544.3" r="10.35" fill="white" stroke="#231815" stroke-width="1.3" />
<g stroke="#231815" stroke-width="5.0"><line x1="849.1" y1="534.45" x2="849.1" y2="554.15"/><line x1="839.25" y1="544.3" x2="858.95" y2="544.3"/></g>
<g stroke="#fff" stroke-width="2.3"><line x1="849.1" y1="534.25" x2="849.1" y2="554.35"/><line x1="839.05" y1="544.3" x2="859.15" y2="544.3"/></g>
<text x="798.4" y="548.5" font-size="11.8" fill="#231815" font-weight="bold" text-anchor="middle" textLength="12.6" lengthAdjust="spacingAndGlyphs" stroke="#231815" stroke-width="0.25">35</text>
<text x="874" y="545.9" font-size="11.8" fill="#231815" font-weight="bold" text-anchor="middle" textLength="12.2" lengthAdjust="spacingAndGlyphs" stroke="#231815" stroke-width="0.25">23</text>
<line x1="641" y1="559" x2="684.8" y2="559" stroke="#231815" stroke-width="1.3" />
<line x1="641" y1="580" x2="684.8" y2="580" stroke="#231815" stroke-width="1.3" />
<line x1="657.3" y1="559" x2="657.3" y2="580" stroke="#231815" stroke-width="1.3" />
<line x1="663.5" y1="559" x2="663.5" y2="580" stroke="#231815" stroke-width="1.3" />
<line x1="684.8" y1="559" x2="684.8" y2="580" stroke="#231815" stroke-width="1.3" />
<circle cx="674" cy="569.5" r="10.35" fill="white" stroke="#231815" stroke-width="1.3" />
<g stroke="#231815" stroke-width="5.0"><line x1="674" y1="559.65" x2="674" y2="579.35"/><line x1="664.15" y1="569.5" x2="683.85" y2="569.5"/></g>
<g stroke="#fff" stroke-width="2.3"><line x1="674" y1="559.45" x2="674" y2="579.55"/><line x1="663.95" y1="569.5" x2="684.05" y2="569.5"/></g>
<text x="649.3" y="572" font-size="14.2" fill="#231815" font-weight="bold" text-anchor="middle" textLength="12.2" lengthAdjust="spacingAndGlyphs" stroke="#231815" stroke-width="0.25">12</text>
<line x1="790" y1="559" x2="882.4" y2="559" stroke="#231815" stroke-width="1.3" />
<line x1="790" y1="580" x2="882.4" y2="580" stroke="#231815" stroke-width="1.3" />
<line x1="807.2" y1="559" x2="807.2" y2="580" stroke="#231815" stroke-width="1.3" />
<line x1="813" y1="559" x2="813" y2="580" stroke="#231815" stroke-width="1.3" />
<line x1="834.6" y1="559" x2="834.6" y2="580" stroke="#231815" stroke-width="1.3" />
<line x1="838" y1="559" x2="838" y2="580" stroke="#231815" stroke-width="1.3" />
<line x1="860.1" y1="559" x2="860.1" y2="580" stroke="#231815" stroke-width="1.3" />
<line x1="865.9" y1="559" x2="865.9" y2="580" stroke="#231815" stroke-width="1.3" />
<circle cx="823.6" cy="569.5" r="10.35" fill="white" stroke="#231815" stroke-width="1.3" />
<g stroke="#231815" stroke-width="5.0"><line x1="823.6" y1="559.65" x2="823.6" y2="579.35"/><line x1="813.75" y1="569.5" x2="833.45" y2="569.5"/></g>
<g stroke="#fff" stroke-width="2.3"><line x1="823.6" y1="559.45" x2="823.6" y2="579.55"/><line x1="813.55" y1="569.5" x2="833.65" y2="569.5"/></g>
<circle cx="849.1" cy="569.5" r="10.35" fill="white" stroke="#231815" stroke-width="1.3" />
<g stroke="#231815" stroke-width="5.0"><line x1="849.1" y1="559.65" x2="849.1" y2="579.35"/><line x1="839.25" y1="569.5" x2="858.95" y2="569.5"/></g>
<g stroke="#fff" stroke-width="2.3"><line x1="849.1" y1="559.45" x2="849.1" y2="579.55"/><line x1="839.05" y1="569.5" x2="859.15" y2="569.5"/></g>
<text x="798.4" y="573.7" font-size="11.8" fill="#231815" font-weight="bold" text-anchor="middle" textLength="12.6" lengthAdjust="spacingAndGlyphs" stroke="#231815" stroke-width="0.25">36</text>
<text x="874" y="571.1" font-size="11.8" fill="#231815" font-weight="bold" text-anchor="middle" textLength="12.2" lengthAdjust="spacingAndGlyphs" stroke="#231815" stroke-width="0.25">24</text>
<text x="727.2" y="292.2" font-size="11.8" fill="#231815" font-weight="normal" text-anchor="start" stroke="#231815" stroke-width="0.12">控制输出</text>
<text x="786" y="294.3" font-size="11.5" fill="#231815" font-weight="normal" text-anchor="end" textLength="6" lengthAdjust="spacingAndGlyphs" stroke="#231815" stroke-width="0.3">T</text>
<text x="786.6" y="314.5" font-size="11.5" fill="#231815" font-weight="normal" text-anchor="end" textLength="22.2" lengthAdjust="spacingAndGlyphs" stroke="#231815" stroke-width="0.3">SCR1</text>
<text x="786" y="334.3" font-size="11.5" fill="#231815" font-weight="normal" text-anchor="end" textLength="6.8" lengthAdjust="spacingAndGlyphs" stroke="#231815" stroke-width="0.3">G</text>
<text x="786" y="347.4" font-size="11.5" fill="#231815" font-weight="normal" text-anchor="end" textLength="6" lengthAdjust="spacingAndGlyphs" stroke="#231815" stroke-width="0.3">T</text>
<text x="786.6" y="366.6" font-size="11.5" fill="#231815" font-weight="normal" text-anchor="end" textLength="22.2" lengthAdjust="spacingAndGlyphs" stroke="#231815" stroke-width="0.3">SCR2</text>
<text x="786" y="385.6" font-size="11.5" fill="#231815" font-weight="normal" text-anchor="end" textLength="6.8" lengthAdjust="spacingAndGlyphs" stroke="#231815" stroke-width="0.3">G</text>
<text x="786" y="397.4" font-size="11.5" fill="#231815" font-weight="normal" text-anchor="end" textLength="6" lengthAdjust="spacingAndGlyphs" stroke="#231815" stroke-width="0.3">T</text>
<text x="786.6" y="416" font-size="11.5" fill="#231815" font-weight="normal" text-anchor="end" textLength="22.2" lengthAdjust="spacingAndGlyphs" stroke="#231815" stroke-width="0.3">SCR3</text>
<text x="786" y="435.7" font-size="11.5" fill="#231815" font-weight="normal" text-anchor="end" textLength="6.8" lengthAdjust="spacingAndGlyphs" stroke="#231815" stroke-width="0.3">G</text>
<text x="584" y="568" font-size="13.8" fill="#231815" font-weight="normal" text-anchor="start" stroke="#231815" stroke-width="0.12">仪表供电</text>
<polyline points="697,633.2 697,298.2 819.6,298.2" fill="none" stroke="#009944" stroke-width="2" />
<polyline points="708.5,656.6 708.5,322.4 819.6,322.4" fill="none" stroke="#009944" stroke-width="2" />
<polyline points="728.8,748.7 728.8,350.8 819.6,350.8" fill="none" stroke="#009944" stroke-width="2" />
<polyline points="740.3,772.1 740.3,374.7 819.6,374.7" fill="none" stroke="#009944" stroke-width="2" />
<polyline points="760.8,868.7 760.8,399.4 819.6,399.4" fill="none" stroke="#009944" stroke-width="2" />
<polyline points="772,892.1 772,424 819.6,424" fill="none" stroke="#009944" stroke-width="2" />
<polyline points="599.3,237.4 599.3,549.8 668.7,549.8" fill="none" stroke="#e60012" stroke-width="2" />
<polyline points="580,264 580,574.7 668.7,574.7" fill="none" stroke="#231815" stroke-width="2" />
<circle cx="599.3" cy="237.4" r="4.4" fill="#e60012"/>
<circle cx="580" cy="264" r="4.3" fill="#231815"/>
<rect x="91.4" y="439.5" width="13.2" height="43.8" fill="white" stroke="#231815" stroke-width="1.6" />
<text x="86.7" y="468.4" font-size="14" fill="#231815" font-weight="normal" text-anchor="end" stroke="#231815" stroke-width="0.12">溶断器</text>
<text x="107.5" y="467.9" font-size="10.5" fill="#231815" font-weight="normal" text-anchor="start" textLength="11.2" lengthAdjust="spacingAndGlyphs" stroke="#231815" stroke-width="0.3">BX</text>
<line x1="98" y1="512.2" x2="149.7" y2="512.2" stroke="#231815" stroke-width="2" />
<rect x="109.2" y="509.6" width="25.8" height="8.5" fill="white" stroke="#231815" stroke-width="1.6" />
<polyline points="110.3,523.3 134.4,505 134.4,499.4" fill="none" stroke="#231815" stroke-width="1.4" />
<polyline points="123.9,500.6 131.4,503.2 123.9,505.6" fill="none" stroke="#231815" stroke-width="1.4" />
<text x="115.3" y="532.8" font-size="10.5" fill="#231815" font-weight="normal" text-anchor="start" textLength="16.8" lengthAdjust="spacingAndGlyphs" stroke="#231815" stroke-width="0.3">ZNR</text>
<circle cx="98" cy="512.2" r="3.4" fill="#231815"/>
<circle cx="149.7" cy="512.2" r="3.4" fill="#231815"/>
<text x="156.5" y="512.4" font-size="14" fill="#231815" font-weight="normal" text-anchor="start" stroke="#231815" stroke-width="0.12">压敏</text>
<text x="156.5" y="529.6" font-size="14" fill="#231815" font-weight="normal" text-anchor="start" stroke="#231815" stroke-width="0.12">电阻</text>
<line x1="98" y1="559.2" x2="106.9" y2="559.2" stroke="#231815" stroke-width="2" />
<line x1="111.7" y1="559.2" x2="149.7" y2="559.2" stroke="#231815" stroke-width="2" />
<line x1="106.9" y1="551.7" x2="106.9" y2="566.7" stroke="#231815" stroke-width="1.8" />
<line x1="111.7" y1="551.7" x2="111.7" y2="566.7" stroke="#231815" stroke-width="1.8" />
<rect x="119.4" y="555.6" width="18.1" height="7.5" fill="white" stroke="#231815" stroke-width="1.6" />
<text x="109.2" y="577.8" font-size="10.5" fill="#231815" font-weight="normal" text-anchor="start" textLength="11.6" lengthAdjust="spacingAndGlyphs" stroke="#231815" stroke-width="0.3">RC</text>
<circle cx="98" cy="559.2" r="3.4" fill="#231815"/>
<circle cx="149.7" cy="559.2" r="3.4" fill="#231815"/>
<text x="156.5" y="558.4" font-size="14" fill="#231815" font-weight="normal" text-anchor="start" stroke="#231815" stroke-width="0.12">阻容</text>
<text x="156.5" y="574.4" font-size="14" fill="#231815" font-weight="normal" text-anchor="start" stroke="#231815" stroke-width="0.12">吸收</text>
<rect x="245.4" y="434.8" width="13.2" height="43.8" fill="white" stroke="#231815" stroke-width="1.6" />
<text x="240.7" y="463.7" font-size="14" fill="#231815" font-weight="normal" text-anchor="end" stroke="#231815" stroke-width="0.12">溶断器</text>
<text x="261.5" y="463.2" font-size="10.5" fill="#231815" font-weight="normal" text-anchor="start" textLength="11.2" lengthAdjust="spacingAndGlyphs" stroke="#231815" stroke-width="0.3">BX</text>
<line x1="252" y1="507.5" x2="303.5" y2="507.5" stroke="#231815" stroke-width="2" />
<rect x="263.2" y="504.9" width="25.8" height="8.5" fill="white" stroke="#231815" stroke-width="1.6" />
<polyline points="264.3,518.6 288.4,500.3 288.4,494.7" fill="none" stroke="#231815" stroke-width="1.4" />
<polyline points="277.9,495.9 285.4,498.5 277.9,500.9" fill="none" stroke="#231815" stroke-width="1.4" />
<text x="269.3" y="528.1" font-size="10.5" fill="#231815" font-weight="normal" text-anchor="start" textLength="16.8" lengthAdjust="spacingAndGlyphs" stroke="#231815" stroke-width="0.3">ZNR</text>
<circle cx="252" cy="507.5" r="3.4" fill="#231815"/>
<circle cx="303.5" cy="507.5" r="3.4" fill="#231815"/>
<text x="310.3" y="507.7" font-size="14" fill="#231815" font-weight="normal" text-anchor="start" stroke="#231815" stroke-width="0.12">压敏</text>
<text x="310.3" y="524.9" font-size="14" fill="#231815" font-weight="normal" text-anchor="start" stroke="#231815" stroke-width="0.12">电阻</text>
<line x1="252" y1="554.5" x2="260.9" y2="554.5" stroke="#231815" stroke-width="2" />
<line x1="265.7" y1="554.5" x2="303.5" y2="554.5" stroke="#231815" stroke-width="2" />
<line x1="260.9" y1="547" x2="260.9" y2="562" stroke="#231815" stroke-width="1.8" />
<line x1="265.7" y1="547" x2="265.7" y2="562" stroke="#231815" stroke-width="1.8" />
<rect x="273.4" y="550.9" width="18.1" height="7.5" fill="white" stroke="#231815" stroke-width="1.6" />
<text x="263.2" y="573.1" font-size="10.5" fill="#231815" font-weight="normal" text-anchor="start" textLength="11.6" lengthAdjust="spacingAndGlyphs" stroke="#231815" stroke-width="0.3">RC</text>
<circle cx="252" cy="554.5" r="3.4" fill="#231815"/>
<circle cx="303.5" cy="554.5" r="3.4" fill="#231815"/>
<text x="310.3" y="553.7" font-size="14" fill="#231815" font-weight="normal" text-anchor="start" stroke="#231815" stroke-width="0.12">阻容</text>
<text x="310.3" y="569.7" font-size="14" fill="#231815" font-weight="normal" text-anchor="start" stroke="#231815" stroke-width="0.12">吸收</text>
<rect x="406.8" y="438.1" width="13.2" height="43.8" fill="white" stroke="#231815" stroke-width="1.6" />
<text x="402.1" y="467" font-size="14" fill="#231815" font-weight="normal" text-anchor="end" stroke="#231815" stroke-width="0.12">溶断器</text>
<text x="422.9" y="466.5" font-size="10.5" fill="#231815" font-weight="normal" text-anchor="start" textLength="11.2" lengthAdjust="spacingAndGlyphs" stroke="#231815" stroke-width="0.3">BX</text>
<line x1="413.4" y1="510.8" x2="465.2" y2="510.8" stroke="#231815" stroke-width="2" />
<rect x="424.6" y="508.2" width="25.8" height="8.5" fill="white" stroke="#231815" stroke-width="1.6" />
<polyline points="425.7,521.9 449.8,503.6 449.8,498" fill="none" stroke="#231815" stroke-width="1.4" />
<polyline points="439.3,499.2 446.8,501.8 439.3,504.2" fill="none" stroke="#231815" stroke-width="1.4" />
<text x="430.7" y="531.4" font-size="10.5" fill="#231815" font-weight="normal" text-anchor="start" textLength="16.8" lengthAdjust="spacingAndGlyphs" stroke="#231815" stroke-width="0.3">ZNR</text>
<circle cx="413.4" cy="510.8" r="3.4" fill="#231815"/>
<circle cx="465.2" cy="510.8" r="3.4" fill="#231815"/>
<text x="472" y="511" font-size="14" fill="#231815" font-weight="normal" text-anchor="start" stroke="#231815" stroke-width="0.12">压敏</text>
<text x="472" y="528.2" font-size="14" fill="#231815" font-weight="normal" text-anchor="start" stroke="#231815" stroke-width="0.12">电阻</text>
<line x1="413.4" y1="557.8" x2="422.3" y2="557.8" stroke="#231815" stroke-width="2" />
<line x1="427.1" y1="557.8" x2="465.2" y2="557.8" stroke="#231815" stroke-width="2" />
<line x1="422.3" y1="550.3" x2="422.3" y2="565.3" stroke="#231815" stroke-width="1.8" />
<line x1="427.1" y1="550.3" x2="427.1" y2="565.3" stroke="#231815" stroke-width="1.8" />
<rect x="434.8" y="554.2" width="18.1" height="7.5" fill="white" stroke="#231815" stroke-width="1.6" />
<text x="424.6" y="576.4" font-size="10.5" fill="#231815" font-weight="normal" text-anchor="start" textLength="11.6" lengthAdjust="spacingAndGlyphs" stroke="#231815" stroke-width="0.3">RC</text>
<circle cx="413.4" cy="557.8" r="3.4" fill="#231815"/>
<circle cx="465.2" cy="557.8" r="3.4" fill="#231815"/>
<text x="472" y="557" font-size="14" fill="#231815" font-weight="normal" text-anchor="start" stroke="#231815" stroke-width="0.12">阻容</text>
<text x="472" y="573" font-size="14" fill="#231815" font-weight="normal" text-anchor="start" stroke="#231815" stroke-width="0.12">吸收</text>
<polyline points="413.4,597.5 355.9,597.5 355.9,692.2 618.2,692.2 618.2,683.7" fill="none" stroke="#e60012" stroke-width="2" />
<polyline points="465.2,597.5 618.2,597.5 618.2,610" fill="none" stroke="#231815" stroke-width="2" />
<rect x="364.6" y="611.8" width="220" height="64.3" fill="white" stroke="#3e3a39" stroke-width="1.5" />
<line x1="367.3" y1="612.5" x2="367.3" y2="675.4" stroke="#9fa0a0" stroke-width="1" />
<line x1="392" y1="612.5" x2="392" y2="675.4" stroke="#9fa0a0" stroke-width="1" />
<line x1="394" y1="611.8" x2="394" y2="676.1" stroke="#3e3a39" stroke-width="1.5" />
<circle cx="380" cy="644.6" r="10.5" fill="none" stroke="#d9d9d9" stroke-width="2" />
<rect x="448.3" y="633.3" width="80" height="25" rx="12.5" fill="#808080"/>
<rect x="449.7" y="631.1" width="27.8" height="29.1" fill="none" stroke="#231815" stroke-width="1.3" />
<rect x="499.2" y="631.1" width="28.3" height="29.1" fill="none" stroke="#231815" stroke-width="1.3" />
<rect x="400.1" y="631.1" width="27.4" height="29.1" fill="white" stroke="#231815" stroke-width="1.3" />
<circle cx="413.5" cy="645.8" r="11.4" fill="white" stroke="#231815" stroke-width="1.3" />
<g stroke="#3e3a39" stroke-width="4.4"><line x1="413.5" y1="635" x2="413.5" y2="656.6"/><line x1="402.7" y1="645.8" x2="424.3" y2="645.8"/></g>
<g stroke="#fff" stroke-width="2.2"><line x1="413.5" y1="635" x2="413.5" y2="656.6"/><line x1="402.7" y1="645.8" x2="424.3" y2="645.8"/></g>
<circle cx="463.5" cy="645.8" r="11.4" fill="#808080" stroke="#231815" stroke-width="1.3" />
<g stroke="#3e3a39" stroke-width="1.2"><line x1="461.9" y1="634.4" x2="461.9" y2="657.2"/><line x1="465.1" y1="634.4" x2="465.1" y2="657.2"/><line x1="452.1" y1="644.1" x2="474.9" y2="644.1"/><line x1="452.1" y1="647.5" x2="474.9" y2="647.5"/></g>
<circle cx="513.3" cy="645.8" r="11.4" fill="#808080" stroke="#231815" stroke-width="1.3" />
<g stroke="#3e3a39" stroke-width="1.2"><line x1="511.7" y1="634.4" x2="511.7" y2="657.2"/><line x1="514.9" y1="634.4" x2="514.9" y2="657.2"/><line x1="501.9" y1="644.1" x2="524.7" y2="644.1"/><line x1="501.9" y1="647.5" x2="524.7" y2="647.5"/></g>
<text x="416.4" y="626.6" font-size="13.4" fill="#231815" font-weight="normal" text-anchor="middle" textLength="6" lengthAdjust="spacingAndGlyphs" stroke="none">1</text>
<text x="469.2" y="626.6" font-size="13.4" fill="#231815" font-weight="normal" text-anchor="middle" textLength="7.3" lengthAdjust="spacingAndGlyphs" stroke="none">2</text>
<text x="514.2" y="626.6" font-size="13.4" fill="#231815" font-weight="normal" text-anchor="middle" textLength="7.3" lengthAdjust="spacingAndGlyphs" stroke="none">3</text>
<text x="414.6" y="671.6" font-size="10" fill="#231815" font-weight="normal" text-anchor="middle" textLength="11.2" lengthAdjust="spacingAndGlyphs" stroke="#231815" stroke-width="0.3">AK</text>
<text x="465.3" y="671.6" font-size="10" fill="#231815" font-weight="normal" text-anchor="middle" textLength="10" lengthAdjust="spacingAndGlyphs" stroke="#231815" stroke-width="0.3">K1</text>
<text x="513.7" y="671.6" font-size="10" fill="#231815" font-weight="normal" text-anchor="middle" textLength="10.5" lengthAdjust="spacingAndGlyphs" stroke="#231815" stroke-width="0.3">A2</text>
<line x1="532" y1="611.8" x2="532" y2="676.1" stroke="#3e3a39" stroke-width="1.3" />
<line x1="548.5" y1="611.8" x2="548.5" y2="676.1" stroke="#3e3a39" stroke-width="1.3" />
<line x1="532" y1="642.3" x2="548.5" y2="642.3" stroke="#3e3a39" stroke-width="1.2" />
<line x1="532" y1="647.2" x2="548.5" y2="647.2" stroke="#3e3a39" stroke-width="1.2" />
<rect x="535.5" y="621.3" width="9.2" height="4.2" rx="1" fill="#9a9a9a" stroke="#3e3a39" stroke-width="1"/>
<rect x="535.5" y="633.3" width="9.2" height="4.2" rx="1" fill="#9a9a9a" stroke="#3e3a39" stroke-width="1"/>
<rect x="535.5" y="653.8" width="9.2" height="4.2" rx="1" fill="#9a9a9a" stroke="#3e3a39" stroke-width="1"/>
<rect x="535.5" y="664.6" width="9.2" height="4.2" rx="1" fill="#9a9a9a" stroke="#3e3a39" stroke-width="1"/>
<text transform="translate(550,622.6) rotate(90)" font-size="7" fill="#231815" stroke="#231815" stroke-width="0.2" text-anchor="middle" textLength="8" lengthAdjust="spacingAndGlyphs">K2</text>
<text transform="translate(550,640) rotate(90)" font-size="7" fill="#231815" stroke="#231815" stroke-width="0.2" text-anchor="middle" textLength="8" lengthAdjust="spacingAndGlyphs">G2</text>
<text transform="translate(550,651.3) rotate(90)" font-size="7" fill="#231815" stroke="#231815" stroke-width="0.2" text-anchor="middle" textLength="8" lengthAdjust="spacingAndGlyphs">G1</text>
<text transform="translate(550,667.2) rotate(90)" font-size="7" fill="#231815" stroke="#231815" stroke-width="0.2" text-anchor="middle" textLength="8" lengthAdjust="spacingAndGlyphs">K1</text>
<line x1="556.4" y1="611.8" x2="556.4" y2="676.1" stroke="#3e3a39" stroke-width="1.5" />
<line x1="558.3" y1="612.5" x2="558.3" y2="675.4" stroke="#9fa0a0" stroke-width="1" />
<line x1="582.9" y1="612.5" x2="582.9" y2="675.4" stroke="#9fa0a0" stroke-width="1" />
<circle cx="570" cy="644.9" r="10.5" fill="none" stroke="#d9d9d9" stroke-width="2" />
<line x1="547.1" y1="633.2" x2="697" y2="633.2" stroke="#009944" stroke-width="2" />
<line x1="547.1" y1="656.6" x2="708.5" y2="656.6" stroke="#009944" stroke-width="2" />
<polygon points="607.9,609.7 629.6,609.7 618.2,620.4" fill="#231815"/>
<line x1="607.9" y1="620.9" x2="627.8" y2="620.9" stroke="#231815" stroke-width="2" />
<line x1="618.2" y1="620" x2="618.2" y2="633.2" stroke="#231815" stroke-width="2" />
<circle cx="618.2" cy="633.2" r="3.5" fill="#231815"/>
<line x1="618.2" y1="656.6" x2="618.2" y2="673" stroke="#e60012" stroke-width="2" />
<circle cx="618.2" cy="656.6" r="3.5" fill="#231815"/>
<line x1="607.9" y1="672.9" x2="627.8" y2="672.9" stroke="#231815" stroke-width="2" />
<polygon points="607.9,683.9 629.6,683.9 618.2,673.2" fill="#231815"/>
<text x="629.4" y="606.3" font-size="11.6" fill="#231815" font-weight="normal" text-anchor="start" stroke="#231815" stroke-width="0.15">I</text>
<text x="632.4" y="606.3" font-size="11.6" fill="#231815" font-weight="normal" text-anchor="start" textLength="31.2" lengthAdjust="spacingAndGlyphs" stroke="#231815" stroke-width="0.15">N4001</text>
<text x="629.4" y="696.2" font-size="11.6" fill="#231815" font-weight="normal" text-anchor="start" stroke="#231815" stroke-width="0.15">I</text>
<text x="632.4" y="696.2" font-size="11.6" fill="#231815" font-weight="normal" text-anchor="start" textLength="31.2" lengthAdjust="spacingAndGlyphs" stroke="#231815" stroke-width="0.15">N4001</text>
<line x1="413.4" y1="237.4" x2="413.4" y2="637.5" stroke="#e60012" stroke-width="2" />
<line x1="465.2" y1="399.3" x2="465.2" y2="645" stroke="#231815" stroke-width="2" />
<circle cx="413.4" cy="597.5" r="3.7" fill="#231815"/>
<circle cx="465.2" cy="597.5" r="3.7" fill="#231815"/>
<polyline points="252,713 194.4,713 194.4,807.7 456.7,807.7 456.7,799.2" fill="none" stroke="#e60012" stroke-width="2" />
<polyline points="303.5,713 456.7,713 456.7,725.5" fill="none" stroke="#231815" stroke-width="2" />
<rect x="203.1" y="727.3" width="220" height="64.3" fill="white" stroke="#3e3a39" stroke-width="1.5" />
<line x1="205.8" y1="728" x2="205.8" y2="790.9" stroke="#9fa0a0" stroke-width="1" />
<line x1="230.5" y1="728" x2="230.5" y2="790.9" stroke="#9fa0a0" stroke-width="1" />
<line x1="232.5" y1="727.3" x2="232.5" y2="791.6" stroke="#3e3a39" stroke-width="1.5" />
<circle cx="218.5" cy="760.1" r="10.5" fill="none" stroke="#d9d9d9" stroke-width="2" />
<rect x="286.8" y="748.8" width="80" height="25" rx="12.5" fill="#808080"/>
<rect x="288.2" y="746.6" width="27.8" height="29.1" fill="none" stroke="#231815" stroke-width="1.3" />
<rect x="337.7" y="746.6" width="28.3" height="29.1" fill="none" stroke="#231815" stroke-width="1.3" />
<rect x="238.6" y="746.6" width="27.4" height="29.1" fill="white" stroke="#231815" stroke-width="1.3" />
<circle cx="252" cy="761.3" r="11.4" fill="white" stroke="#231815" stroke-width="1.3" />
<g stroke="#3e3a39" stroke-width="4.4"><line x1="252" y1="750.5" x2="252" y2="772.1"/><line x1="241.2" y1="761.3" x2="262.8" y2="761.3"/></g>
<g stroke="#fff" stroke-width="2.2"><line x1="252" y1="750.5" x2="252" y2="772.1"/><line x1="241.2" y1="761.3" x2="262.8" y2="761.3"/></g>
<circle cx="302" cy="761.3" r="11.4" fill="#808080" stroke="#231815" stroke-width="1.3" />
<g stroke="#3e3a39" stroke-width="1.2"><line x1="300.4" y1="749.9" x2="300.4" y2="772.7"/><line x1="303.6" y1="749.9" x2="303.6" y2="772.7"/><line x1="290.6" y1="759.6" x2="313.4" y2="759.6"/><line x1="290.6" y1="763" x2="313.4" y2="763"/></g>
<circle cx="351.8" cy="761.3" r="11.4" fill="#808080" stroke="#231815" stroke-width="1.3" />
<g stroke="#3e3a39" stroke-width="1.2"><line x1="350.2" y1="749.9" x2="350.2" y2="772.7"/><line x1="353.4" y1="749.9" x2="353.4" y2="772.7"/><line x1="340.4" y1="759.6" x2="363.2" y2="759.6"/><line x1="340.4" y1="763" x2="363.2" y2="763"/></g>
<text x="254.9" y="742.1" font-size="13.4" fill="#231815" font-weight="normal" text-anchor="middle" textLength="6" lengthAdjust="spacingAndGlyphs" stroke="none">1</text>
<text x="307.7" y="742.1" font-size="13.4" fill="#231815" font-weight="normal" text-anchor="middle" textLength="7.3" lengthAdjust="spacingAndGlyphs" stroke="none">2</text>
<text x="352.7" y="742.1" font-size="13.4" fill="#231815" font-weight="normal" text-anchor="middle" textLength="7.3" lengthAdjust="spacingAndGlyphs" stroke="none">3</text>
<text x="253.1" y="787.1" font-size="10" fill="#231815" font-weight="normal" text-anchor="middle" textLength="11.2" lengthAdjust="spacingAndGlyphs" stroke="#231815" stroke-width="0.3">AK</text>
<text x="303.8" y="787.1" font-size="10" fill="#231815" font-weight="normal" text-anchor="middle" textLength="10" lengthAdjust="spacingAndGlyphs" stroke="#231815" stroke-width="0.3">K1</text>
<line x1="370.5" y1="727.3" x2="370.5" y2="791.6" stroke="#3e3a39" stroke-width="1.3" />
<line x1="387" y1="727.3" x2="387" y2="791.6" stroke="#3e3a39" stroke-width="1.3" />
<line x1="370.5" y1="757.8" x2="387" y2="757.8" stroke="#3e3a39" stroke-width="1.2" />
<line x1="370.5" y1="762.7" x2="387" y2="762.7" stroke="#3e3a39" stroke-width="1.2" />
<rect x="374" y="736.8" width="9.2" height="4.2" rx="1" fill="#9a9a9a" stroke="#3e3a39" stroke-width="1"/>
<rect x="374" y="748.8" width="9.2" height="4.2" rx="1" fill="#9a9a9a" stroke="#3e3a39" stroke-width="1"/>
<rect x="374" y="769.3" width="9.2" height="4.2" rx="1" fill="#9a9a9a" stroke="#3e3a39" stroke-width="1"/>
<rect x="374" y="780.1" width="9.2" height="4.2" rx="1" fill="#9a9a9a" stroke="#3e3a39" stroke-width="1"/>
<text transform="translate(388.5,738.1) rotate(90)" font-size="7" fill="#231815" stroke="#231815" stroke-width="0.2" text-anchor="middle" textLength="8" lengthAdjust="spacingAndGlyphs">K2</text>
<text transform="translate(388.5,755.5) rotate(90)" font-size="7" fill="#231815" stroke="#231815" stroke-width="0.2" text-anchor="middle" textLength="8" lengthAdjust="spacingAndGlyphs">G2</text>
<text transform="translate(388.5,766.8) rotate(90)" font-size="7" fill="#231815" stroke="#231815" stroke-width="0.2" text-anchor="middle" textLength="8" lengthAdjust="spacingAndGlyphs">G1</text>
<text transform="translate(388.5,782.7) rotate(90)" font-size="7" fill="#231815" stroke="#231815" stroke-width="0.2" text-anchor="middle" textLength="8" lengthAdjust="spacingAndGlyphs">K1</text>
<line x1="394.9" y1="727.3" x2="394.9" y2="791.6" stroke="#3e3a39" stroke-width="1.5" />
<line x1="396.8" y1="728" x2="396.8" y2="790.9" stroke="#9fa0a0" stroke-width="1" />
<line x1="421.4" y1="728" x2="421.4" y2="790.9" stroke="#9fa0a0" stroke-width="1" />
<circle cx="408.5" cy="760.4" r="10.5" fill="none" stroke="#d9d9d9" stroke-width="2" />
<line x1="385.6" y1="748.7" x2="728.8" y2="748.7" stroke="#009944" stroke-width="2" />
<line x1="385.6" y1="772.1" x2="740.3" y2="772.1" stroke="#009944" stroke-width="2" />
<polygon points="446.4,725.2 468.1,725.2 456.7,735.9" fill="#231815"/>
<line x1="446.4" y1="736.4" x2="466.3" y2="736.4" stroke="#231815" stroke-width="2" />
<line x1="456.7" y1="735.5" x2="456.7" y2="748.7" stroke="#231815" stroke-width="2" />
<circle cx="456.7" cy="748.7" r="3.5" fill="#231815"/>
<line x1="456.7" y1="772.1" x2="456.7" y2="788.5" stroke="#e60012" stroke-width="2" />
<circle cx="456.7" cy="772.1" r="3.5" fill="#231815"/>
<line x1="446.4" y1="788.4" x2="466.3" y2="788.4" stroke="#231815" stroke-width="2" />
<polygon points="446.4,799.4 468.1,799.4 456.7,788.7" fill="#231815"/>
<text x="467.9" y="724.6" font-size="11.6" fill="#231815" font-weight="normal" text-anchor="start" stroke="#231815" stroke-width="0.15">I</text>
<text x="470.9" y="724.6" font-size="11.6" fill="#231815" font-weight="normal" text-anchor="start" textLength="31.2" lengthAdjust="spacingAndGlyphs" stroke="#231815" stroke-width="0.15">N4001</text>
<text x="467.9" y="811" font-size="11.6" fill="#231815" font-weight="normal" text-anchor="start" stroke="#231815" stroke-width="0.15">I</text>
<text x="470.9" y="811" font-size="11.6" fill="#231815" font-weight="normal" text-anchor="start" textLength="31.2" lengthAdjust="spacingAndGlyphs" stroke="#231815" stroke-width="0.15">N4001</text>
<line x1="252" y1="211" x2="252" y2="753" stroke="#e60012" stroke-width="2" />
<line x1="303.5" y1="399.3" x2="303.5" y2="760.5" stroke="#231815" stroke-width="2" />
<circle cx="252" cy="713" r="3.7" fill="#231815"/>
<circle cx="303.5" cy="713" r="3.7" fill="#231815"/>
<polyline points="98,833 40.4,833 40.4,927.7 302.7,927.7 302.7,919.2" fill="none" stroke="#e60012" stroke-width="2" />
<polyline points="149.7,833 302.7,833 302.7,845.5" fill="none" stroke="#231815" stroke-width="2" />
<rect x="49.1" y="847.3" width="220" height="64.3" fill="white" stroke="#3e3a39" stroke-width="1.5" />
<line x1="51.8" y1="848" x2="51.8" y2="910.9" stroke="#9fa0a0" stroke-width="1" />
<line x1="76.5" y1="848" x2="76.5" y2="910.9" stroke="#9fa0a0" stroke-width="1" />
<line x1="78.5" y1="847.3" x2="78.5" y2="911.6" stroke="#3e3a39" stroke-width="1.5" />
<circle cx="64.5" cy="880.1" r="10.5" fill="none" stroke="#d9d9d9" stroke-width="2" />
<rect x="132.8" y="868.8" width="80" height="25" rx="12.5" fill="#808080"/>
<rect x="134.2" y="866.6" width="27.8" height="29.1" fill="none" stroke="#231815" stroke-width="1.3" />
<rect x="183.7" y="866.6" width="28.3" height="29.1" fill="none" stroke="#231815" stroke-width="1.3" />
<rect x="84.6" y="866.6" width="27.4" height="29.1" fill="white" stroke="#231815" stroke-width="1.3" />
<circle cx="98" cy="881.3" r="11.4" fill="white" stroke="#231815" stroke-width="1.3" />
<g stroke="#3e3a39" stroke-width="4.4"><line x1="98" y1="870.5" x2="98" y2="892.1"/><line x1="87.2" y1="881.3" x2="108.8" y2="881.3"/></g>
<g stroke="#fff" stroke-width="2.2"><line x1="98" y1="870.5" x2="98" y2="892.1"/><line x1="87.2" y1="881.3" x2="108.8" y2="881.3"/></g>
<circle cx="148" cy="881.3" r="11.4" fill="#808080" stroke="#231815" stroke-width="1.3" />
<g stroke="#3e3a39" stroke-width="1.2"><line x1="146.4" y1="869.9" x2="146.4" y2="892.7"/><line x1="149.6" y1="869.9" x2="149.6" y2="892.7"/><line x1="136.6" y1="879.6" x2="159.4" y2="879.6"/><line x1="136.6" y1="883" x2="159.4" y2="883"/></g>
<circle cx="197.8" cy="881.3" r="11.4" fill="#808080" stroke="#231815" stroke-width="1.3" />
<g stroke="#3e3a39" stroke-width="1.2"><line x1="196.2" y1="869.9" x2="196.2" y2="892.7"/><line x1="199.4" y1="869.9" x2="199.4" y2="892.7"/><line x1="186.4" y1="879.6" x2="209.2" y2="879.6"/><line x1="186.4" y1="883" x2="209.2" y2="883"/></g>
<text x="100.9" y="862.1" font-size="13.4" fill="#231815" font-weight="normal" text-anchor="middle" textLength="6" lengthAdjust="spacingAndGlyphs" stroke="none">1</text>
<text x="153.7" y="862.1" font-size="13.4" fill="#231815" font-weight="normal" text-anchor="middle" textLength="7.3" lengthAdjust="spacingAndGlyphs" stroke="none">2</text>
<text x="198.7" y="862.1" font-size="13.4" fill="#231815" font-weight="normal" text-anchor="middle" textLength="7.3" lengthAdjust="spacingAndGlyphs" stroke="none">3</text>
<text x="99.1" y="907.1" font-size="10" fill="#231815" font-weight="normal" text-anchor="middle" textLength="11.2" lengthAdjust="spacingAndGlyphs" stroke="#231815" stroke-width="0.3">AK</text>
<text x="149.8" y="907.1" font-size="10" fill="#231815" font-weight="normal" text-anchor="middle" textLength="10" lengthAdjust="spacingAndGlyphs" stroke="#231815" stroke-width="0.3">K1</text>
<line x1="216.5" y1="847.3" x2="216.5" y2="911.6" stroke="#3e3a39" stroke-width="1.3" />
<line x1="233" y1="847.3" x2="233" y2="911.6" stroke="#3e3a39" stroke-width="1.3" />
<line x1="216.5" y1="877.8" x2="233" y2="877.8" stroke="#3e3a39" stroke-width="1.2" />
<line x1="216.5" y1="882.7" x2="233" y2="882.7" stroke="#3e3a39" stroke-width="1.2" />
<rect x="220" y="856.8" width="9.2" height="4.2" rx="1" fill="#9a9a9a" stroke="#3e3a39" stroke-width="1"/>
<rect x="220" y="868.8" width="9.2" height="4.2" rx="1" fill="#9a9a9a" stroke="#3e3a39" stroke-width="1"/>
<rect x="220" y="889.3" width="9.2" height="4.2" rx="1" fill="#9a9a9a" stroke="#3e3a39" stroke-width="1"/>
<rect x="220" y="900.1" width="9.2" height="4.2" rx="1" fill="#9a9a9a" stroke="#3e3a39" stroke-width="1"/>
<text transform="translate(234.5,858.1) rotate(90)" font-size="7" fill="#231815" stroke="#231815" stroke-width="0.2" text-anchor="middle" textLength="8" lengthAdjust="spacingAndGlyphs">K2</text>
<text transform="translate(234.5,875.5) rotate(90)" font-size="7" fill="#231815" stroke="#231815" stroke-width="0.2" text-anchor="middle" textLength="8" lengthAdjust="spacingAndGlyphs">G2</text>
<text transform="translate(234.5,886.8) rotate(90)" font-size="7" fill="#231815" stroke="#231815" stroke-width="0.2" text-anchor="middle" textLength="8" lengthAdjust="spacingAndGlyphs">G1</text>
<text transform="translate(234.5,902.7) rotate(90)" font-size="7" fill="#231815" stroke="#231815" stroke-width="0.2" text-anchor="middle" textLength="8" lengthAdjust="spacingAndGlyphs">K1</text>
<line x1="240.9" y1="847.3" x2="240.9" y2="911.6" stroke="#3e3a39" stroke-width="1.5" />
<line x1="242.8" y1="848" x2="242.8" y2="910.9" stroke="#9fa0a0" stroke-width="1" />
<line x1="267.4" y1="848" x2="267.4" y2="910.9" stroke="#9fa0a0" stroke-width="1" />
<circle cx="254.5" cy="880.4" r="10.5" fill="none" stroke="#d9d9d9" stroke-width="2" />
<line x1="231.6" y1="868.7" x2="760.8" y2="868.7" stroke="#009944" stroke-width="2" />
<line x1="231.6" y1="892.1" x2="772" y2="892.1" stroke="#009944" stroke-width="2" />
<polygon points="292.4,845.2 314.1,845.2 302.7,855.9" fill="#231815"/>
<line x1="292.4" y1="856.4" x2="312.3" y2="856.4" stroke="#231815" stroke-width="2" />
<line x1="302.7" y1="855.5" x2="302.7" y2="868.7" stroke="#231815" stroke-width="2" />
<circle cx="302.7" cy="868.7" r="3.5" fill="#231815"/>
<line x1="302.7" y1="892.1" x2="302.7" y2="908.5" stroke="#e60012" stroke-width="2" />
<circle cx="302.7" cy="892.1" r="3.5" fill="#231815"/>
<line x1="292.4" y1="908.4" x2="312.3" y2="908.4" stroke="#231815" stroke-width="2" />
<polygon points="292.4,919.4 314.1,919.4 302.7,908.7" fill="#231815"/>
<text x="313.9" y="841.3" font-size="11.6" fill="#231815" font-weight="normal" text-anchor="start" stroke="#231815" stroke-width="0.15">I</text>
<text x="316.9" y="841.3" font-size="11.6" fill="#231815" font-weight="normal" text-anchor="start" textLength="31.2" lengthAdjust="spacingAndGlyphs" stroke="#231815" stroke-width="0.15">N4001</text>
<text x="313.9" y="930.5" font-size="11.6" fill="#231815" font-weight="normal" text-anchor="start" stroke="#231815" stroke-width="0.15">I</text>
<text x="316.9" y="930.5" font-size="11.6" fill="#231815" font-weight="normal" text-anchor="start" textLength="31.2" lengthAdjust="spacingAndGlyphs" stroke="#231815" stroke-width="0.15">N4001</text>
<line x1="98" y1="184.6" x2="98" y2="873" stroke="#e60012" stroke-width="2" />
<line x1="149.7" y1="399.3" x2="149.7" y2="880.5" stroke="#231815" stroke-width="2" />
<circle cx="98" cy="833" r="3.7" fill="#231815"/>
<circle cx="149.7" cy="833" r="3.7" fill="#231815"/>
<circle cx="98" cy="512.2" r="3.4" fill="#231815"/>
<circle cx="149.7" cy="512.2" r="3.4" fill="#231815"/>
<circle cx="98" cy="559.2" r="3.4" fill="#231815"/>
<circle cx="149.7" cy="559.2" r="3.4" fill="#231815"/>
<circle cx="98" cy="184.6" r="4.4" fill="#e60012"/>
<circle cx="252" cy="507.5" r="3.4" fill="#231815"/>
<circle cx="303.5" cy="507.5" r="3.4" fill="#231815"/>
<circle cx="252" cy="554.5" r="3.4" fill="#231815"/>
<circle cx="303.5" cy="554.5" r="3.4" fill="#231815"/>
<circle cx="252" cy="211" r="4.4" fill="#e60012"/>
<circle cx="413.4" cy="510.8" r="3.4" fill="#231815"/>
<circle cx="465.2" cy="510.8" r="3.4" fill="#231815"/>
<circle cx="413.4" cy="557.8" r="3.4" fill="#231815"/>
<circle cx="465.2" cy="557.8" r="3.4" fill="#231815"/>
<circle cx="413.4" cy="237.4" r="4.4" fill="#e60012"/>
<path d="M1008.3,394.6 V528.5 Q1012,526 1016,528.5 Q1020,531 1024.6,528 V394.6" fill="none" stroke="#3e3a39" stroke-width="0.9" />
<path d="M1008.3,532.8 Q1012,530 1016,533 Q1020,535 1024.6,532 V573 Q1024.6,582.2 1016.5,582.2 Q1008.3,582.2 1008.3,573 Z" fill="none" stroke="#3e3a39" stroke-width="0.9" />
<path d="M1011.3,394.6 V528 M1020.5,394.6 V529 M1011.3,533 V574 Q1011.3,577 1015,577 H1020.5 V533" fill="none" stroke="#3e3a39" stroke-width="0.9" />
<path d="M1014.6,394.6 V528 M1014.6,533 V574" fill="none" stroke="#9fa0a0" stroke-width="1.6" />
<path d="M1018,562 l2,1.5 l-2,1.5 l2,1.5 l-2,1.5 l2,1.5 l-2,1.5 l2,1.5" fill="none" stroke="#3e3a39" stroke-width="0.7" />
<path d="M1001.7,378.3 H1032.2 V394.4 H1001.7 Z M1005.6,378.3 V394.4 M1028.3,378.3 V394.4" fill="none" stroke="#3e3a39" stroke-width="0.9" />
<path d="M1025.6,380.6 H1032 V392.2 H1025.6 Z" fill="none" stroke="#3e3a39" stroke-width="0.8" />
<circle cx="1028" cy="386.4" r="1" fill="#231815"/>
<path d="M991.7,367.2 L1001.7,378.3 M1042.8,367.2 L1032.2,378.3 M1000.6,367.2 L1003.9,378.3 M1028.3,367.2 L1025.6,378.3" fill="none" stroke="#3e3a39" stroke-width="0.9" />
<path d="M991.7,324 Q997.5,344 991.7,360 V367.2 H1042.8 V357.5" fill="none" stroke="#3e3a39" stroke-width="0.9" />
<path d="M965.3,332.4 H991.7 M965.3,356.4 H991.7 M965.3,332.4 V356.4" fill="none" stroke="#3e3a39" stroke-width="0.9" />
<path d="M959.5,332.4 H962 Q964,332.4 964,335 V353.8 Q964,356.4 962,356.4 H959.5 Q957.2,356.4 957.2,353.8 V335 Q957.2,332.4 959.5,332.4 Z M957.2,339 H964 M957.2,350.5 H964" fill="none" stroke="#3e3a39" stroke-width="0.9" />
<path d="M964,333 V356" fill="none" stroke="#9fa0a0" stroke-width="1.2" />
<path d="M970.4,332.4 V329.3 H991.7" fill="none" stroke="#3e3a39" stroke-width="0.9" />
<path d="M970.2,329.3 Q970.5,324 975.3,324 Q980.6,324 980.8,329.3 Z" fill="#b5b5b6" stroke="#3e3a39" stroke-width="0.9"/>
<path d="M963.6,322.4 L969.6,328.5" fill="none" stroke="#3e3a39" stroke-width="1.1" />
<circle cx="963.6" cy="322.4" r="2.8" fill="#9fa0a0" stroke="#3e3a39" stroke-width="0.8"/>
<path d="M958.5,322.7 Q951,321 951.1,315.6 Q951.5,309.3 956,309.2 H1008" fill="none" stroke="#3e3a39" stroke-width="1.1" stroke-dasharray="1 2.6"/>
<path d="M989.6,310.4 L1055.2,354.4 L1050,362.2 L984.1,318.1 Z" fill="none" stroke="#3e3a39" stroke-width="1" />
<path d="M985.4,316.3 L1051,360.3" fill="none" stroke="#3e3a39" stroke-width="0.8" />
<path d="M992.9,312.6 l-4.2,5.9" fill="none" stroke="#3e3a39" stroke-width="0.9" />
<path d="M1001.4,318.3 l-4.2,5.9" fill="none" stroke="#3e3a39" stroke-width="0.9" />
<path d="M1009.9,324.0 l-4.2,5.9" fill="none" stroke="#3e3a39" stroke-width="0.9" />
<path d="M1018.5,329.8 l-4.2,5.9" fill="none" stroke="#3e3a39" stroke-width="0.9" />
<path d="M1027.0,335.5 l-4.2,5.9" fill="none" stroke="#3e3a39" stroke-width="0.9" />
<path d="M1035.5,341.2 l-4.2,5.9" fill="none" stroke="#3e3a39" stroke-width="0.9" />
<path d="M1044.0,346.9 l-4.2,5.9" fill="none" stroke="#3e3a39" stroke-width="0.9" />
<path d="M1052.6,352.6 l-4.2,5.9" fill="none" stroke="#3e3a39" stroke-width="0.9" />
<path d="M995,312.6 Q1000,309.6 1004.4,312.6 L1046.7,341.5 Q1050.8,345.5 1050.3,352" fill="none" stroke="#3e3a39" stroke-width="1" />
<path d="M1003.2,314.8 L1045.4,343.6" fill="none" stroke="#3e3a39" stroke-width="0.8" />
<circle cx="1012.2" cy="308.1" r="2.9" fill="#9fa0a0" stroke="#3e3a39" stroke-width="0.8"/>
<path d="M1012.2,308.1 L1020.5,315.6" fill="none" stroke="#3e3a39" stroke-width="1.1" />
<path d="M1019.6,317.3 Q1021,312.6 1025.8,314.2 Q1029.5,316.5 1027.8,321.8 Z" fill="#b5b5b6" stroke="#3e3a39" stroke-width="0.9"/>
<path d="M1029.6,325.4 L1031.3,322.6 L1039,327.8 L1037.3,330.6 Z" fill="none" stroke="#3e3a39" stroke-width="0.9" />
<path d="M1004.4,358.9 L1011.1,366 V394.6 M1024.4,358.9 L1019.4,366 V394.6" fill="none" stroke="#3e3a39" stroke-width="0.9" />
<path d="M1014.1,358.9 V394.6" fill="none" stroke="#9fa0a0" stroke-width="1.5" />
<polyline points="853.9,525 905.8,525 905.8,340.6 1012.8,340.6 1024.4,358.9" fill="none" stroke="#e4007f" stroke-width="2" />
<polyline points="853.9,549.6 917.4,549.6 917.4,345 1006.7,345 1014.1,358.9" fill="none" stroke="#00a0e9" stroke-width="2" />
<polyline points="853.9,574.9 929.2,574.9 929.2,349 1001.1,349 1004.4,358.9" fill="none" stroke="#00a0e9" stroke-width="2" />
<text x="893.6" y="522.2" font-size="10" fill="#231815" font-weight="normal" text-anchor="start" textLength="6" lengthAdjust="spacingAndGlyphs" stroke="#231815" stroke-width="0.3">A</text>
<text x="893.8" y="545.2" font-size="10" fill="#231815" font-weight="normal" text-anchor="start" textLength="5.8" lengthAdjust="spacingAndGlyphs" stroke="#231815" stroke-width="0.3">B</text>
<text x="893.8" y="570.2" font-size="10" fill="#231815" font-weight="normal" text-anchor="start" textLength="5.8" lengthAdjust="spacingAndGlyphs" stroke="#231815" stroke-width="0.3">B</text>
<text x="934.7" y="566" font-size="13.8" fill="#231815" font-weight="normal" text-anchor="start" stroke="#231815" stroke-width="0.12">信号输入</text>
<text x="957.8" y="291" font-size="13.2" fill="#231815" font-weight="normal" text-anchor="start" stroke="#231815" stroke-width="0.12">三线制</text>
<circle cx="1004.4" cy="358.9" r="1.9" fill="#231815"/>
<circle cx="1014.1" cy="358.9" r="1.9" fill="#231815"/>
<circle cx="1024.4" cy="358.9" r="1.9" fill="#231815"/>
<text x="1002" y="291.2" font-size="12.5" fill="#231815" font-weight="normal" text-anchor="start" textLength="38.2" lengthAdjust="spacingAndGlyphs" stroke="#231815" stroke-width="0.05">PT100</text>
<g fill="none" stroke="#595757" stroke-width="1.3"><line x1="836.6" y1="607.4" x2="1021.8" y2="607.4" stroke-dasharray="13 13.4" stroke-dashoffset="6.5"/><line x1="836.6" y1="770.2" x2="1021.8" y2="770.2" stroke-dasharray="13 13.4" stroke-dashoffset="6.5"/><line x1="836.7" y1="606.8" x2="836.7" y2="770.8" stroke-dasharray="13.5 13.8" stroke-dashoffset="7"/><line x1="1021.8" y1="606.8" x2="1021.8" y2="770.8" stroke-dasharray="13.5 13.8" stroke-dashoffset="7"/></g>
<text x="844" y="626.2" font-size="11.8" fill="#231815" font-weight="normal" text-anchor="start" stroke="#231815" stroke-width="0.12">工作电源</text>
<text x="941" y="626.2" font-size="11.8" fill="#231815" font-weight="normal" text-anchor="start" stroke="#231815" stroke-width="0.12">控制输出</text>
<text x="990.6" y="626.6" font-size="11.2" fill="#231815" font-weight="normal" text-anchor="start" textLength="17.8" lengthAdjust="spacingAndGlyphs" stroke="#231815" stroke-width="0.45">OUT</text>
<text x="844" y="694.3" font-size="11.8" fill="#231815" font-weight="normal" text-anchor="start" stroke="#231815" stroke-width="0.12">热电阻输入</text>
<line x1="846" y1="632.7" x2="880.7" y2="632.7" stroke="#231815" stroke-width="1.3" />
<line x1="846" y1="649.6" x2="880.7" y2="649.6" stroke="#231815" stroke-width="1.3" />
<line x1="859.6" y1="632.7" x2="859.6" y2="649.6" stroke="#231815" stroke-width="1.3" />
<line x1="863.7" y1="632.7" x2="863.7" y2="649.6" stroke="#231815" stroke-width="1.3" />
<line x1="880.7" y1="632.7" x2="880.7" y2="649.6" stroke="#231815" stroke-width="1.3" />
<circle cx="872.1" cy="641.15" r="8.4" fill="white" stroke="#231815" stroke-width="1.1" />
<g stroke="#231815" stroke-width="3.6"><line x1="872.1" y1="633.25" x2="872.1" y2="649.05"/><line x1="864.2" y1="641.15" x2="880" y2="641.15"/></g>
<g stroke="#fff" stroke-width="1.8"><line x1="872.1" y1="633.05" x2="872.1" y2="649.25"/><line x1="864" y1="641.15" x2="880.2" y2="641.15"/></g>
<text x="852.8" y="644.32" font-size="8.8" fill="#231815" font-weight="bold" text-anchor="middle" textLength="7.6" lengthAdjust="spacingAndGlyphs" stroke="#231815" stroke-width="0.25">11</text>
<line x1="846" y1="653.2" x2="880.7" y2="653.2" stroke="#231815" stroke-width="1.3" />
<line x1="846" y1="670" x2="880.7" y2="670" stroke="#231815" stroke-width="1.3" />
<line x1="859.6" y1="653.2" x2="859.6" y2="670" stroke="#231815" stroke-width="1.3" />
<line x1="863.7" y1="653.2" x2="863.7" y2="670" stroke="#231815" stroke-width="1.3" />
<line x1="880.7" y1="653.2" x2="880.7" y2="670" stroke="#231815" stroke-width="1.3" />
<circle cx="872.1" cy="661.6" r="8.4" fill="white" stroke="#231815" stroke-width="1.1" />
<g stroke="#231815" stroke-width="3.6"><line x1="872.1" y1="653.7" x2="872.1" y2="669.5"/><line x1="864.2" y1="661.6" x2="880" y2="661.6"/></g>
<g stroke="#fff" stroke-width="1.8"><line x1="872.1" y1="653.5" x2="872.1" y2="669.7"/><line x1="864" y1="661.6" x2="880.2" y2="661.6"/></g>
<text x="852.8" y="664.77" font-size="8.8" fill="#231815" font-weight="bold" text-anchor="middle" textLength="7.6" lengthAdjust="spacingAndGlyphs" stroke="#231815" stroke-width="0.25">12</text>
<line x1="880" y1="641.5" x2="899.3" y2="641.5" stroke="#231815" stroke-width="1.2" />
<circle cx="901.3" cy="641.5" r="2" fill="white" stroke="#231815" stroke-width="1.1" />
<line x1="880" y1="661.7" x2="899.3" y2="661.7" stroke="#231815" stroke-width="1.2" />
<circle cx="901.3" cy="661.7" r="2" fill="white" stroke="#231815" stroke-width="1.1" />
<text x="889.2" y="638.8" font-size="10.5" fill="#231815" font-weight="normal" text-anchor="start" textLength="5.5" lengthAdjust="spacingAndGlyphs" stroke="#231815" stroke-width="0.3">L</text>
<text x="888.9" y="655.9" font-size="10.5" fill="#231815" font-weight="normal" text-anchor="start" textLength="34.2" lengthAdjust="spacingAndGlyphs" stroke="#231815" stroke-width="0.3">AC220V</text>
<text x="889.2" y="672.6" font-size="10.5" fill="#231815" font-weight="normal" text-anchor="start" textLength="6.5" lengthAdjust="spacingAndGlyphs" stroke="#231815" stroke-width="0.3">N</text>
<line x1="845" y1="700.7" x2="881.4" y2="700.7" stroke="#231815" stroke-width="1.3" />
<line x1="845" y1="718.3" x2="881.4" y2="718.3" stroke="#231815" stroke-width="1.3" />
<line x1="858.3" y1="700.7" x2="858.3" y2="718.3" stroke="#231815" stroke-width="1.3" />
<line x1="863.1" y1="700.7" x2="863.1" y2="718.3" stroke="#231815" stroke-width="1.3" />
<line x1="881.4" y1="700.7" x2="881.4" y2="718.3" stroke="#231815" stroke-width="1.3" />
<circle cx="872.4" cy="709.5" r="8.8" fill="white" stroke="#231815" stroke-width="1.1" />
<g stroke="#231815" stroke-width="3.6"><line x1="872.4" y1="701.2" x2="872.4" y2="717.8"/><line x1="864.1" y1="709.5" x2="880.7" y2="709.5"/></g>
<g stroke="#fff" stroke-width="1.8"><line x1="872.4" y1="701" x2="872.4" y2="718"/><line x1="863.9" y1="709.5" x2="880.9" y2="709.5"/></g>
<text x="851.65" y="713.32" font-size="10.6" fill="#231815" font-weight="bold" text-anchor="middle" textLength="10.8" lengthAdjust="spacingAndGlyphs" stroke="#231815" stroke-width="0.25">22</text>
<line x1="845" y1="721.4" x2="881.4" y2="721.4" stroke="#231815" stroke-width="1.3" />
<line x1="845" y1="739.4" x2="881.4" y2="739.4" stroke="#231815" stroke-width="1.3" />
<line x1="858.3" y1="721.4" x2="858.3" y2="739.4" stroke="#231815" stroke-width="1.3" />
<line x1="863.1" y1="721.4" x2="863.1" y2="739.4" stroke="#231815" stroke-width="1.3" />
<line x1="881.4" y1="721.4" x2="881.4" y2="739.4" stroke="#231815" stroke-width="1.3" />
<circle cx="872.4" cy="730.4" r="8.8" fill="white" stroke="#231815" stroke-width="1.1" />
<g stroke="#231815" stroke-width="3.6"><line x1="872.4" y1="722.1" x2="872.4" y2="738.7"/><line x1="864.1" y1="730.4" x2="880.7" y2="730.4"/></g>
<g stroke="#fff" stroke-width="1.8"><line x1="872.4" y1="721.9" x2="872.4" y2="738.9"/><line x1="863.9" y1="730.4" x2="880.9" y2="730.4"/></g>
<text x="851.65" y="734.22" font-size="10.6" fill="#231815" font-weight="bold" text-anchor="middle" textLength="10.8" lengthAdjust="spacingAndGlyphs" stroke="#231815" stroke-width="0.25">23</text>
<line x1="845" y1="742.5" x2="881.4" y2="742.5" stroke="#231815" stroke-width="1.3" />
<line x1="845" y1="760.3" x2="881.4" y2="760.3" stroke="#231815" stroke-width="1.3" />
<line x1="858.3" y1="742.5" x2="858.3" y2="760.3" stroke="#231815" stroke-width="1.3" />
<line x1="863.1" y1="742.5" x2="863.1" y2="760.3" stroke="#231815" stroke-width="1.3" />
<line x1="881.4" y1="742.5" x2="881.4" y2="760.3" stroke="#231815" stroke-width="1.3" />
<circle cx="872.4" cy="751.4" r="8.8" fill="white" stroke="#231815" stroke-width="1.1" />
<g stroke="#231815" stroke-width="3.6"><line x1="872.4" y1="743.1" x2="872.4" y2="759.7"/><line x1="864.1" y1="751.4" x2="880.7" y2="751.4"/></g>
<g stroke="#fff" stroke-width="1.8"><line x1="872.4" y1="742.9" x2="872.4" y2="759.9"/><line x1="863.9" y1="751.4" x2="880.9" y2="751.4"/></g>
<text x="851.65" y="755.22" font-size="10.6" fill="#231815" font-weight="bold" text-anchor="middle" textLength="10.8" lengthAdjust="spacingAndGlyphs" stroke="#231815" stroke-width="0.25">24</text>
<polyline points="880.8,709.6 892.7,709.6 892.7,713" fill="none" stroke="#231815" stroke-width="1.2" />
<rect x="890.2" y="713" width="5.1" height="15.1" fill="white" stroke="#231815" stroke-width="1.2" />
<polyline points="892.7,728.1 892.7,751.9 880.8,751.9" fill="none" stroke="#231815" stroke-width="1.2" />
<polyline points="880.8,730.5 887.5,730.5 887.5,741 892.7,741" fill="none" stroke="#231815" stroke-width="1.2" />
<text x="897.1" y="731.8" font-size="8.8" fill="#231815" font-weight="normal" text-anchor="start" textLength="15.2" lengthAdjust="spacingAndGlyphs" stroke="#231815" stroke-width="0.3">RTD</text>
<line x1="943" y1="633.5" x2="976.5" y2="633.5" stroke="#231815" stroke-width="1.3" />
<line x1="943" y1="649.9" x2="976.5" y2="649.9" stroke="#231815" stroke-width="1.3" />
<line x1="955.3" y1="633.5" x2="955.3" y2="649.9" stroke="#231815" stroke-width="1.3" />
<line x1="959.5" y1="633.5" x2="959.5" y2="649.9" stroke="#231815" stroke-width="1.3" />
<line x1="976.5" y1="633.5" x2="976.5" y2="649.9" stroke="#231815" stroke-width="1.3" />
<circle cx="968.4" cy="641.7" r="7.9" fill="white" stroke="#231815" stroke-width="1.1" />
<g stroke="#231815" stroke-width="3.6"><line x1="968.4" y1="634.3" x2="968.4" y2="649.1"/><line x1="961" y1="641.7" x2="975.8" y2="641.7"/></g>
<g stroke="#fff" stroke-width="1.8"><line x1="968.4" y1="634.1" x2="968.4" y2="649.3"/><line x1="960.8" y1="641.7" x2="976" y2="641.7"/></g>
<text x="949.15" y="645.52" font-size="10.6" fill="#231815" font-weight="bold" text-anchor="middle" textLength="10.4" lengthAdjust="spacingAndGlyphs" stroke="#231815" stroke-width="0.25">25</text>
<line x1="943" y1="652.7" x2="976.5" y2="652.7" stroke="#231815" stroke-width="1.3" />
<line x1="943" y1="669.4" x2="976.5" y2="669.4" stroke="#231815" stroke-width="1.3" />
<line x1="955.3" y1="652.7" x2="955.3" y2="669.4" stroke="#231815" stroke-width="1.3" />
<line x1="959.5" y1="652.7" x2="959.5" y2="669.4" stroke="#231815" stroke-width="1.3" />
<line x1="976.5" y1="652.7" x2="976.5" y2="669.4" stroke="#231815" stroke-width="1.3" />
<circle cx="968.4" cy="661.05" r="7.9" fill="white" stroke="#231815" stroke-width="1.1" />
<g stroke="#231815" stroke-width="3.6"><line x1="968.4" y1="653.65" x2="968.4" y2="668.45"/><line x1="961" y1="661.05" x2="975.8" y2="661.05"/></g>
<g stroke="#fff" stroke-width="1.8"><line x1="968.4" y1="653.45" x2="968.4" y2="668.65"/><line x1="960.8" y1="661.05" x2="976" y2="661.05"/></g>
<text x="949.15" y="664.87" font-size="10.6" fill="#231815" font-weight="bold" text-anchor="middle" textLength="10.4" lengthAdjust="spacingAndGlyphs" stroke="#231815" stroke-width="0.25">26</text>
<line x1="943" y1="676.6" x2="976.5" y2="676.6" stroke="#231815" stroke-width="1.3" />
<line x1="943" y1="692.8" x2="976.5" y2="692.8" stroke="#231815" stroke-width="1.3" />
<line x1="955.3" y1="676.6" x2="955.3" y2="692.8" stroke="#231815" stroke-width="1.3" />
<line x1="959.5" y1="676.6" x2="959.5" y2="692.8" stroke="#231815" stroke-width="1.3" />
<line x1="976.5" y1="676.6" x2="976.5" y2="692.8" stroke="#231815" stroke-width="1.3" />
<circle cx="968.4" cy="684.7" r="7.9" fill="white" stroke="#231815" stroke-width="1.1" />
<g stroke="#231815" stroke-width="3.6"><line x1="968.4" y1="677.3" x2="968.4" y2="692.1"/><line x1="961" y1="684.7" x2="975.8" y2="684.7"/></g>
<g stroke="#fff" stroke-width="1.8"><line x1="968.4" y1="677.1" x2="968.4" y2="692.3"/><line x1="960.8" y1="684.7" x2="976" y2="684.7"/></g>
<text x="949.15" y="688.52" font-size="10.6" fill="#231815" font-weight="bold" text-anchor="middle" textLength="10.4" lengthAdjust="spacingAndGlyphs" stroke="#231815" stroke-width="0.25">27</text>
<line x1="943" y1="696.2" x2="976.5" y2="696.2" stroke="#231815" stroke-width="1.3" />
<line x1="943" y1="712.6" x2="976.5" y2="712.6" stroke="#231815" stroke-width="1.3" />
<line x1="955.3" y1="696.2" x2="955.3" y2="712.6" stroke="#231815" stroke-width="1.3" />
<line x1="959.5" y1="696.2" x2="959.5" y2="712.6" stroke="#231815" stroke-width="1.3" />
<line x1="976.5" y1="696.2" x2="976.5" y2="712.6" stroke="#231815" stroke-width="1.3" />
<circle cx="968.4" cy="704.4" r="7.9" fill="white" stroke="#231815" stroke-width="1.1" />
<g stroke="#231815" stroke-width="3.6"><line x1="968.4" y1="697" x2="968.4" y2="711.8"/><line x1="961" y1="704.4" x2="975.8" y2="704.4"/></g>
<g stroke="#fff" stroke-width="1.8"><line x1="968.4" y1="696.8" x2="968.4" y2="712"/><line x1="960.8" y1="704.4" x2="976" y2="704.4"/></g>
<text x="949.15" y="708.22" font-size="10.6" fill="#231815" font-weight="bold" text-anchor="middle" textLength="10.4" lengthAdjust="spacingAndGlyphs" stroke="#231815" stroke-width="0.25">28</text>
<line x1="943" y1="719.3" x2="976.5" y2="719.3" stroke="#231815" stroke-width="1.3" />
<line x1="943" y1="736.2" x2="976.5" y2="736.2" stroke="#231815" stroke-width="1.3" />
<line x1="955.3" y1="719.3" x2="955.3" y2="736.2" stroke="#231815" stroke-width="1.3" />
<line x1="959.5" y1="719.3" x2="959.5" y2="736.2" stroke="#231815" stroke-width="1.3" />
<line x1="976.5" y1="719.3" x2="976.5" y2="736.2" stroke="#231815" stroke-width="1.3" />
<circle cx="968.4" cy="727.75" r="7.9" fill="white" stroke="#231815" stroke-width="1.1" />
<g stroke="#231815" stroke-width="3.6"><line x1="968.4" y1="720.35" x2="968.4" y2="735.15"/><line x1="961" y1="727.75" x2="975.8" y2="727.75"/></g>
<g stroke="#fff" stroke-width="1.8"><line x1="968.4" y1="720.15" x2="968.4" y2="735.35"/><line x1="960.8" y1="727.75" x2="976" y2="727.75"/></g>
<text x="949.15" y="731.57" font-size="10.6" fill="#231815" font-weight="bold" text-anchor="middle" textLength="10.4" lengthAdjust="spacingAndGlyphs" stroke="#231815" stroke-width="0.25">29</text>
<line x1="943" y1="738.7" x2="976.5" y2="738.7" stroke="#231815" stroke-width="1.3" />
<line x1="943" y1="755.4" x2="976.5" y2="755.4" stroke="#231815" stroke-width="1.3" />
<line x1="955.3" y1="738.7" x2="955.3" y2="755.4" stroke="#231815" stroke-width="1.3" />
<line x1="959.5" y1="738.7" x2="959.5" y2="755.4" stroke="#231815" stroke-width="1.3" />
<line x1="976.5" y1="738.7" x2="976.5" y2="755.4" stroke="#231815" stroke-width="1.3" />
<circle cx="968.4" cy="747.05" r="7.9" fill="white" stroke="#231815" stroke-width="1.1" />
<g stroke="#231815" stroke-width="3.6"><line x1="968.4" y1="739.65" x2="968.4" y2="754.45"/><line x1="961" y1="747.05" x2="975.8" y2="747.05"/></g>
<g stroke="#fff" stroke-width="1.8"><line x1="968.4" y1="739.45" x2="968.4" y2="754.65"/><line x1="960.8" y1="747.05" x2="976" y2="747.05"/></g>
<text x="949.15" y="750.87" font-size="10.6" fill="#231815" font-weight="bold" text-anchor="middle" textLength="10.4" lengthAdjust="spacingAndGlyphs" stroke="#231815" stroke-width="0.25">30</text>
<line x1="976" y1="642.9" x2="990.9" y2="642.9" stroke="#231815" stroke-width="1.2" />
<circle cx="990.9" cy="642.9" r="1.3" fill="#231815"/>
<line x1="976" y1="662.7" x2="990.9" y2="662.7" stroke="#231815" stroke-width="1.2" />
<circle cx="990.9" cy="662.7" r="1.3" fill="#231815"/>
<text x="983.5" y="640.5" font-size="10" fill="#231815" font-weight="normal" text-anchor="start" textLength="4.6" lengthAdjust="spacingAndGlyphs" stroke="#231815" stroke-width="0.3">T</text>
<text x="983.3" y="671.4" font-size="10" fill="#231815" font-weight="normal" text-anchor="start" textLength="5.2" lengthAdjust="spacingAndGlyphs" stroke="#231815" stroke-width="0.3">G</text>
<text x="993.4" y="655.7" font-size="10.4" fill="#231815" font-weight="normal" text-anchor="start" textLength="21.5" lengthAdjust="spacingAndGlyphs" stroke="#231815" stroke-width="0.3">SCR1</text>
<line x1="976" y1="685.7" x2="990.9" y2="685.7" stroke="#231815" stroke-width="1.2" />
<circle cx="990.9" cy="685.7" r="1.3" fill="#231815"/>
<line x1="976" y1="706.1" x2="990.9" y2="706.1" stroke="#231815" stroke-width="1.2" />
<circle cx="990.9" cy="706.1" r="1.3" fill="#231815"/>
<text x="983.5" y="683.3" font-size="10" fill="#231815" font-weight="normal" text-anchor="start" textLength="4.6" lengthAdjust="spacingAndGlyphs" stroke="#231815" stroke-width="0.3">T</text>
<text x="983.3" y="714.8" font-size="10" fill="#231815" font-weight="normal" text-anchor="start" textLength="5.2" lengthAdjust="spacingAndGlyphs" stroke="#231815" stroke-width="0.3">G</text>
<text x="993.4" y="698.5" font-size="10.4" fill="#231815" font-weight="normal" text-anchor="start" textLength="21.5" lengthAdjust="spacingAndGlyphs" stroke="#231815" stroke-width="0.3">SCR2</text>
<line x1="976" y1="728.5" x2="990.9" y2="728.5" stroke="#231815" stroke-width="1.2" />
<circle cx="990.9" cy="728.5" r="1.3" fill="#231815"/>
<line x1="976" y1="748.5" x2="990.9" y2="748.5" stroke="#231815" stroke-width="1.2" />
<circle cx="990.9" cy="748.5" r="1.3" fill="#231815"/>
<text x="983.5" y="726.1" font-size="10" fill="#231815" font-weight="normal" text-anchor="start" textLength="4.6" lengthAdjust="spacingAndGlyphs" stroke="#231815" stroke-width="0.3">T</text>
<text x="983.3" y="757.2" font-size="10" fill="#231815" font-weight="normal" text-anchor="start" textLength="5.2" lengthAdjust="spacingAndGlyphs" stroke="#231815" stroke-width="0.3">G</text>
<text x="993.4" y="741.5" font-size="10.4" fill="#231815" font-weight="normal" text-anchor="start" textLength="21.5" lengthAdjust="spacingAndGlyphs" stroke="#231815" stroke-width="0.3">SCR2</text>
<text x="378" y="950.8" font-size="23" fill="#231815" stroke="#fff" stroke-width="0.25" textLength="380" lengthAdjust="spacing">2个单向可控硅反并联（2和3短接）</text>
</svg></body></html>
